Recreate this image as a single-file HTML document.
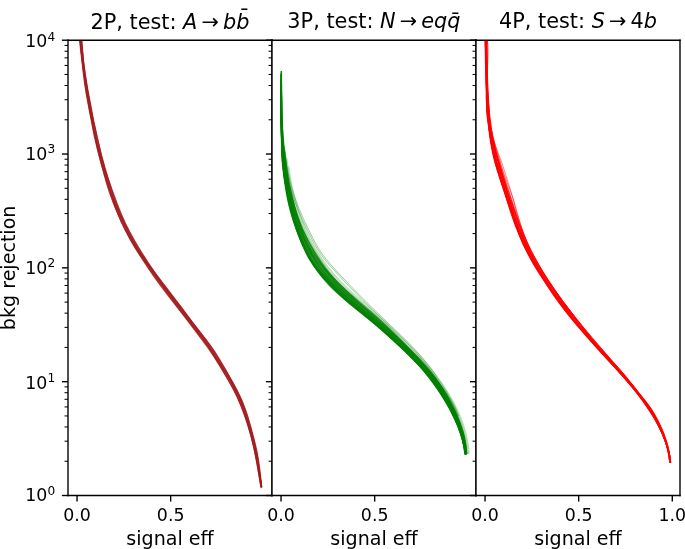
<!DOCTYPE html><html><head><meta charset="utf-8"><style>html,body{margin:0;padding:0;background:#fff}svg{display:block}</style></head><body><svg width="685" height="549" viewBox="0 0 394.56 316.224">
 
 <defs>
  <style type="text/css">*{stroke-linejoin: round; stroke-linecap: butt}</style>
 </defs>
 <g id="figure_1">
  <g id="patch_1">
   <path d="M 0 316.224 
L 394.56 316.224 
L 394.56 0 
L 0 0 
z
" style="fill: #ffffff"/>
  </g>
  <g id="axes_1">
   <g id="patch_2">
    <path d="M 39.168 285.408 
L 156.672 285.408 
L 156.672 23.1552 
L 39.168 23.1552 
z
" style="fill: #ffffff"/>
   </g>
   <g id="matplotlib.axis_1">
    <g id="xtick_1">
     <g id="line2d_1">
      <defs>
       <path id="m1504cfccaf" d="M 0 0 
L 0 3.5 
" style="stroke: #000000; stroke-width: 0.8"/>
      </defs>
      <g>
       <use href="#m1504cfccaf" x="44.377218" y="285.408" style="stroke: #000000; stroke-width: 0.8"/>
      </g>
     </g>
     <g id="text_1">
      <text style="font-size: 10px; font-family: 'DejaVu Sans', 'Bitstream Vera Sans', 'Computer Modern Sans Serif', 'Lucida Grande', 'Verdana', 'Geneva', 'Lucid', 'Arial', 'Helvetica', 'Avant Garde', sans-serif; text-anchor: middle" x="44.377218" y="300.006438" transform="rotate(-0 44.377218 300.006438)">0.0</text>
     </g>
    </g>
    <g id="xtick_2">
     <g id="line2d_2">
      <g>
       <use href="#m1504cfccaf" x="98.302872" y="285.408" style="stroke: #000000; stroke-width: 0.8"/>
      </g>
     </g>
     <g id="text_2">
      <text style="font-size: 10px; font-family: 'DejaVu Sans', 'Bitstream Vera Sans', 'Computer Modern Sans Serif', 'Lucida Grande', 'Verdana', 'Geneva', 'Lucid', 'Arial', 'Helvetica', 'Avant Garde', sans-serif; text-anchor: middle" x="98.302872" y="300.006438" transform="rotate(-0 98.302872 300.006438)">0.5</text>
     </g>
    </g>
    <g id="text_3">
     <text style="font-size: 11px; font-family: 'DejaVu Sans', 'Bitstream Vera Sans', 'Computer Modern Sans Serif', 'Lucida Grande', 'Verdana', 'Geneva', 'Lucid', 'Arial', 'Helvetica', 'Avant Garde', sans-serif; text-anchor: middle" x="97.9200" y="314.0988" transform="rotate(-0 97.9200 314.0988)">signal eff</text>
    </g>
   </g>
   <g id="matplotlib.axis_2">
    <g id="ytick_1">
     <g id="line2d_3">
      <defs>
       <path id="m5d545ce8f8" d="M 0 0 
L -3.5 0 
" style="stroke: #000000; stroke-width: 0.8"/>
      </defs>
      <g>
       <use href="#m5d545ce8f8" x="39.168" y="285.408" style="stroke: #000000; stroke-width: 0.8"/>
      </g>
     </g>
     <g id="text_4">
      
      <g transform="translate(14.568 289.668019)">
       <text>
        <tspan x="0" y="-0.976562" style="font-size: 10px; font-family: 'DejaVu Sans'">1</tspan>
        <tspan x="6.362305" y="-0.976562" style="font-size: 10px; font-family: 'DejaVu Sans'">0</tspan>
        <tspan x="12.820312" y="-4.804688" style="font-size: 7px; font-family: 'DejaVu Sans'">0</tspan>
       </text>
      </g>
     </g>
    </g>
    <g id="ytick_2">
     <g id="line2d_4">
      <g>
       <use href="#m5d545ce8f8" x="39.168" y="219.8448" style="stroke: #000000; stroke-width: 0.8"/>
      </g>
     </g>
     <g id="text_5">
      
      <g transform="translate(14.568 224.104819)">
       <text>
        <tspan x="0" y="-0.064063" style="font-size: 10px; font-family: 'DejaVu Sans'">1</tspan>
        <tspan x="6.362305" y="-0.064063" style="font-size: 10px; font-family: 'DejaVu Sans'">0</tspan>
        <tspan x="12.820312" y="-3.892188" style="font-size: 7px; font-family: 'DejaVu Sans'">1</tspan>
       </text>
      </g>
     </g>
    </g>
    <g id="ytick_3">
     <g id="line2d_5">
      <g>
       <use href="#m5d545ce8f8" x="39.168" y="154.2816" style="stroke: #000000; stroke-width: 0.8"/>
      </g>
     </g>
     <g id="text_6">
      
      <g transform="translate(14.568 158.541619)">
       <text>
        <tspan x="0" y="-0.976562" style="font-size: 10px; font-family: 'DejaVu Sans'">1</tspan>
        <tspan x="6.362305" y="-0.976562" style="font-size: 10px; font-family: 'DejaVu Sans'">0</tspan>
        <tspan x="12.820312" y="-4.804688" style="font-size: 7px; font-family: 'DejaVu Sans'">2</tspan>
       </text>
      </g>
     </g>
    </g>
    <g id="ytick_4">
     <g id="line2d_6">
      <g>
       <use href="#m5d545ce8f8" x="39.168" y="88.7184" style="stroke: #000000; stroke-width: 0.8"/>
      </g>
     </g>
     <g id="text_7">
      
      <g transform="translate(14.568 92.978419)">
       <text>
        <tspan x="0" y="-0.976562" style="font-size: 10px; font-family: 'DejaVu Sans'">1</tspan>
        <tspan x="6.362305" y="-0.976562" style="font-size: 10px; font-family: 'DejaVu Sans'">0</tspan>
        <tspan x="12.820312" y="-4.804688" style="font-size: 7px; font-family: 'DejaVu Sans'">3</tspan>
       </text>
      </g>
     </g>
    </g>
    <g id="ytick_5">
     <g id="line2d_7">
      <g>
       <use href="#m5d545ce8f8" x="39.168" y="23.1552" style="stroke: #000000; stroke-width: 0.8"/>
      </g>
     </g>
     <g id="text_8">
      
      <g transform="translate(14.568 27.415219)">
       <text>
        <tspan x="0" y="-0.064063" style="font-size: 10px; font-family: 'DejaVu Sans'">1</tspan>
        <tspan x="6.362305" y="-0.064063" style="font-size: 10px; font-family: 'DejaVu Sans'">0</tspan>
        <tspan x="12.820312" y="-3.892188" style="font-size: 7px; font-family: 'DejaVu Sans'">4</tspan>
       </text>
      </g>
     </g>
    </g>
    <g id="ytick_6">
     <g id="line2d_8">
      <defs>
       <path id="mc3d89a154a" d="M 0 0 
L -2 0 
" style="stroke: #000000; stroke-width: 0.6"/>
      </defs>
      <g>
       <use href="#mc3d89a154a" x="39.168" y="265.67151" style="stroke: #000000; stroke-width: 0.6"/>
      </g>
     </g>
    </g>
    <g id="ytick_7">
     <g id="line2d_9">
      <g>
       <use href="#mc3d89a154a" x="39.168" y="254.126404" style="stroke: #000000; stroke-width: 0.6"/>
      </g>
     </g>
    </g>
    <g id="ytick_8">
     <g id="line2d_10">
      <g>
       <use href="#mc3d89a154a" x="39.168" y="245.93502" style="stroke: #000000; stroke-width: 0.6"/>
      </g>
     </g>
    </g>
    <g id="ytick_9">
     <g id="line2d_11">
      <g>
       <use href="#mc3d89a154a" x="39.168" y="239.58129" style="stroke: #000000; stroke-width: 0.6"/>
      </g>
     </g>
    </g>
    <g id="ytick_10">
     <g id="line2d_12">
      <g>
       <use href="#mc3d89a154a" x="39.168" y="234.389914" style="stroke: #000000; stroke-width: 0.6"/>
      </g>
     </g>
    </g>
    <g id="ytick_11">
     <g id="line2d_13">
      <g>
       <use href="#mc3d89a154a" x="39.168" y="230.000668" style="stroke: #000000; stroke-width: 0.6"/>
      </g>
     </g>
    </g>
    <g id="ytick_12">
     <g id="line2d_14">
      <g>
       <use href="#mc3d89a154a" x="39.168" y="226.198531" style="stroke: #000000; stroke-width: 0.6"/>
      </g>
     </g>
    </g>
    <g id="ytick_13">
     <g id="line2d_15">
      <g>
       <use href="#mc3d89a154a" x="39.168" y="222.844808" style="stroke: #000000; stroke-width: 0.6"/>
      </g>
     </g>
    </g>
    <g id="ytick_14">
     <g id="line2d_16">
      <g>
       <use href="#mc3d89a154a" x="39.168" y="200.10831" style="stroke: #000000; stroke-width: 0.6"/>
      </g>
     </g>
    </g>
    <g id="ytick_15">
     <g id="line2d_17">
      <g>
       <use href="#mc3d89a154a" x="39.168" y="188.563204" style="stroke: #000000; stroke-width: 0.6"/>
      </g>
     </g>
    </g>
    <g id="ytick_16">
     <g id="line2d_18">
      <g>
       <use href="#mc3d89a154a" x="39.168" y="180.37182" style="stroke: #000000; stroke-width: 0.6"/>
      </g>
     </g>
    </g>
    <g id="ytick_17">
     <g id="line2d_19">
      <g>
       <use href="#mc3d89a154a" x="39.168" y="174.01809" style="stroke: #000000; stroke-width: 0.6"/>
      </g>
     </g>
    </g>
    <g id="ytick_18">
     <g id="line2d_20">
      <g>
       <use href="#mc3d89a154a" x="39.168" y="168.826714" style="stroke: #000000; stroke-width: 0.6"/>
      </g>
     </g>
    </g>
    <g id="ytick_19">
     <g id="line2d_21">
      <g>
       <use href="#mc3d89a154a" x="39.168" y="164.437468" style="stroke: #000000; stroke-width: 0.6"/>
      </g>
     </g>
    </g>
    <g id="ytick_20">
     <g id="line2d_22">
      <g>
       <use href="#mc3d89a154a" x="39.168" y="160.635331" style="stroke: #000000; stroke-width: 0.6"/>
      </g>
     </g>
    </g>
    <g id="ytick_21">
     <g id="line2d_23">
      <g>
       <use href="#mc3d89a154a" x="39.168" y="157.281608" style="stroke: #000000; stroke-width: 0.6"/>
      </g>
     </g>
    </g>
    <g id="ytick_22">
     <g id="line2d_24">
      <g>
       <use href="#mc3d89a154a" x="39.168" y="134.54511" style="stroke: #000000; stroke-width: 0.6"/>
      </g>
     </g>
    </g>
    <g id="ytick_23">
     <g id="line2d_25">
      <g>
       <use href="#mc3d89a154a" x="39.168" y="123.000004" style="stroke: #000000; stroke-width: 0.6"/>
      </g>
     </g>
    </g>
    <g id="ytick_24">
     <g id="line2d_26">
      <g>
       <use href="#mc3d89a154a" x="39.168" y="114.80862" style="stroke: #000000; stroke-width: 0.6"/>
      </g>
     </g>
    </g>
    <g id="ytick_25">
     <g id="line2d_27">
      <g>
       <use href="#mc3d89a154a" x="39.168" y="108.45489" style="stroke: #000000; stroke-width: 0.6"/>
      </g>
     </g>
    </g>
    <g id="ytick_26">
     <g id="line2d_28">
      <g>
       <use href="#mc3d89a154a" x="39.168" y="103.263514" style="stroke: #000000; stroke-width: 0.6"/>
      </g>
     </g>
    </g>
    <g id="ytick_27">
     <g id="line2d_29">
      <g>
       <use href="#mc3d89a154a" x="39.168" y="98.874268" style="stroke: #000000; stroke-width: 0.6"/>
      </g>
     </g>
    </g>
    <g id="ytick_28">
     <g id="line2d_30">
      <g>
       <use href="#mc3d89a154a" x="39.168" y="95.072131" style="stroke: #000000; stroke-width: 0.6"/>
      </g>
     </g>
    </g>
    <g id="ytick_29">
     <g id="line2d_31">
      <g>
       <use href="#mc3d89a154a" x="39.168" y="91.718408" style="stroke: #000000; stroke-width: 0.6"/>
      </g>
     </g>
    </g>
    <g id="ytick_30">
     <g id="line2d_32">
      <g>
       <use href="#mc3d89a154a" x="39.168" y="68.98191" style="stroke: #000000; stroke-width: 0.6"/>
      </g>
     </g>
    </g>
    <g id="ytick_31">
     <g id="line2d_33">
      <g>
       <use href="#mc3d89a154a" x="39.168" y="57.436804" style="stroke: #000000; stroke-width: 0.6"/>
      </g>
     </g>
    </g>
    <g id="ytick_32">
     <g id="line2d_34">
      <g>
       <use href="#mc3d89a154a" x="39.168" y="49.24542" style="stroke: #000000; stroke-width: 0.6"/>
      </g>
     </g>
    </g>
    <g id="ytick_33">
     <g id="line2d_35">
      <g>
       <use href="#mc3d89a154a" x="39.168" y="42.89169" style="stroke: #000000; stroke-width: 0.6"/>
      </g>
     </g>
    </g>
    <g id="ytick_34">
     <g id="line2d_36">
      <g>
       <use href="#mc3d89a154a" x="39.168" y="37.700314" style="stroke: #000000; stroke-width: 0.6"/>
      </g>
     </g>
    </g>
    <g id="ytick_35">
     <g id="line2d_37">
      <g>
       <use href="#mc3d89a154a" x="39.168" y="33.311068" style="stroke: #000000; stroke-width: 0.6"/>
      </g>
     </g>
    </g>
    <g id="ytick_36">
     <g id="line2d_38">
      <g>
       <use href="#mc3d89a154a" x="39.168" y="29.508931" style="stroke: #000000; stroke-width: 0.6"/>
      </g>
     </g>
    </g>
    <g id="ytick_37">
     <g id="line2d_39">
      <g>
       <use href="#mc3d89a154a" x="39.168" y="26.155208" style="stroke: #000000; stroke-width: 0.6"/>
      </g>
     </g>
    </g>
    <g id="text_9">
     <text style="font-size: 11px; font-family: 'DejaVu Sans', 'Bitstream Vera Sans', 'Computer Modern Sans Serif', 'Lucida Grande', 'Verdana', 'Geneva', 'Lucid', 'Arial', 'Helvetica', 'Avant Garde', sans-serif; text-anchor: middle" x="8.6835" y="154.2816" transform="rotate(-90 8.6835 154.2816)">bkg rejection</text>
    </g>
   </g>
   <g id="line2d_40">
    <path d="M 45.598349 20.789011 
L 46.350313 28.195458 
L 48.556919 46.963644 
L 49.618012 53.754234 
L 51.58949 64.45526 
L 54.320287 78.511889 
L 55.893088 85.203856 
L 58.798 96.288149 
L 61.397999 105.687034 
L 63.14315 111.1584 
L 64.915395 116.016708 
L 67.296556 121.873358 
L 70.316292 128.709228 
L 73.068538 134.405544 
L 75.513609 138.969414 
L 78.154075 143.421318 
L 81.888824 149.215819 
L 88.317769 158.723121 
L 92.662081 164.780485 
L 97.205137 170.680418 
L 107.403269 183.759422 
L 119.70049 200.215524 
L 123.21888 205.405065 
L 126.848025 211.195636 
L 131.479529 219.027967 
L 134.490714 224.506803 
L 136.50209 228.582862 
L 138.547975 233.269875 
L 140.378339 238.046809 
L 142.386276 243.970579 
L 144.359114 250.50979 
L 145.79562 256.024237 
L 147.009084 261.596163 
L 148.235643 268.33242 
L 150.323004 280.72629 
L 150.323004 280.72629 
" clip-path="url(#p6982bb04e9)" style="fill: none; stroke: #a31c1f; stroke-opacity: 0.85; stroke-width: 0.6624"/>
   </g>
   <g id="line2d_41">
    <path d="M 45.782986 20.773694 
L 46.712553 29.309379 
L 49.240346 49.756005 
L 50.331451 56.537606 
L 52.048829 65.532985 
L 56.419889 86.843999 
L 57.969754 92.950594 
L 59.89005 99.55307 
L 63.519779 111.028308 
L 66.107044 118.635835 
L 67.96724 123.462055 
L 69.80918 127.676846 
L 72.103882 132.315007 
L 74.87262 137.352043 
L 78.40282 143.270744 
L 82.71474 150.046294 
L 86.906807 156.20843 
L 91.616794 162.701425 
L 101.943343 176.419394 
L 107.93485 184.071244 
L 116.798071 195.275142 
L 119.781366 199.461774 
L 122.897644 204.247706 
L 126.725196 210.600985 
L 133.843768 222.922283 
L 136.235813 227.453158 
L 138.175507 231.576229 
L 139.914397 235.790276 
L 141.439667 240.087116 
L 142.943716 244.990644 
L 144.566309 251.044499 
L 146.266953 258.255492 
L 147.866301 266.07949 
L 149.334541 274.517832 
L 150.339224 280.724069 
L 150.339224 280.724069 
" clip-path="url(#p6982bb04e9)" style="fill: none; stroke: #a31c1f; stroke-opacity: 0.85; stroke-width: 0.6624"/>
   </g>
   <g id="line2d_42">
    <path d="M 45.922787 20.762097 
L 47.398624 35.566882 
L 48.29576 42.952722 
L 49.294789 49.168708 
L 54.09121 75.630043 
L 55.656181 82.317122 
L 60.165098 100.069981 
L 61.830348 105.550747 
L 63.714856 110.960926 
L 67.168275 120.064233 
L 69.977933 126.966011 
L 72.148287 131.649988 
L 74.278713 135.71468 
L 76.867148 140.180351 
L 81.101687 146.993466 
L 85.802521 154.18439 
L 89.111508 158.857887 
L 93.609123 164.786142 
L 99.810999 173.006721 
L 108.015934 184.008847 
L 117.784377 196.676706 
L 122.038759 202.761021 
L 128.071843 211.779227 
L 130.771697 216.15464 
L 132.984645 220.152778 
L 134.99365 224.255576 
L 137.046603 228.960873 
L 140.004087 236.36552 
L 142.345776 242.789233 
L 143.893172 247.683167 
L 145.224716 252.64259 
L 146.764719 259.316585 
L 149.00177 269.942878 
L 149.991156 275.576519 
L 150.692367 280.675724 
L 150.692367 280.675724 
" clip-path="url(#p6982bb04e9)" style="fill: none; stroke: #a31c1f; stroke-opacity: 0.85; stroke-width: 0.6624"/>
   </g>
   <g id="line2d_43">
    <path d="M 46.133772 20.744595 
L 46.69106 27.011515 
L 47.551274 33.821363 
L 51.361626 60.42324 
L 53.232681 70.547843 
L 54.961374 78.953893 
L 56.433252 85.072976 
L 58.829405 93.90726 
L 62.878939 108.221283 
L 64.544998 113.097193 
L 66.448142 117.885827 
L 69.227331 124.164325 
L 74.291483 135.058176 
L 76.670449 139.632265 
L 79.003128 143.576934 
L 81.527905 147.400464 
L 86.171897 153.928977 
L 98.25167 170.59794 
L 111.490591 187.827392 
L 120.184537 199.876732 
L 124.014961 205.56108 
L 128.597947 212.796079 
L 133.325323 220.618259 
L 135.797884 225.132643 
L 137.538237 228.739634 
L 139.302868 232.962709 
L 141.052218 237.803215 
L 143.522298 245.412829 
L 145.634525 252.541231 
L 146.739757 256.983681 
L 147.629497 261.47395 
L 148.40549 266.564638 
L 150.40315 280.715318 
L 150.40315 280.715318 
" clip-path="url(#p6982bb04e9)" style="fill: none; stroke: #a31c1f; stroke-opacity: 0.85; stroke-width: 0.6624"/>
   </g>
   <g id="line2d_44">
    <path d="M 46.392862 20.723103 
L 47.357207 31.541814 
L 48.091365 38.940124 
L 48.823078 44.03486 
L 49.956772 50.224106 
L 51.83402 60.337997 
L 54.534713 76.118558 
L 55.854439 81.683042 
L 58.536243 91.619763 
L 62.643691 106.493112 
L 64.422666 111.926235 
L 66.607594 117.82347 
L 68.996745 123.641097 
L 71.352668 128.851121 
L 73.654544 133.45396 
L 76.142222 137.958255 
L 79.394313 143.338462 
L 84.044081 150.537538 
L 88.549691 157.148903 
L 92.584838 162.695768 
L 98.847774 170.860813 
L 118.026953 195.79739 
L 121.215912 200.551717 
L 126.381634 208.792672 
L 133.886783 220.967367 
L 135.774087 224.506352 
L 137.465192 228.14411 
L 138.957612 231.867105 
L 140.844195 237.270692 
L 144.154521 247.609608 
L 145.898254 253.654618 
L 146.968508 258.105165 
L 147.94401 263.161141 
L 149.187339 271.071266 
L 150.714826 280.67265 
L 150.714826 280.67265 
" clip-path="url(#p6982bb04e9)" style="fill: none; stroke: #a31c1f; stroke-opacity: 0.85; stroke-width: 0.6624"/>
   </g>
   <g id="line2d_45">
    <path d="M 46.676293 20.699591 
L 47.544085 29.79777 
L 48.62564 41.753559 
L 49.331991 46.849928 
L 50.427895 53.042661 
L 56.10666 82.211138 
L 57.834702 88.849724 
L 60.673724 98.733996 
L 63.376734 107.456349 
L 65.621271 113.923024 
L 68.09243 120.304068 
L 70.77163 126.600439 
L 73.416979 132.291575 
L 76.032626 137.365306 
L 78.589216 141.822847 
L 81.637841 146.651268 
L 85.497717 152.312699 
L 90.830577 159.730189 
L 97.00582 167.951523 
L 115.353606 192.079692 
L 121.129797 199.914252 
L 124.343045 204.656431 
L 127.35787 209.528652 
L 131.052039 215.992859 
L 136.531042 226.050214 
L 138.829285 230.676574 
L 140.654241 234.89345 
L 142.049209 238.664278 
L 143.413839 243.050321 
L 144.722535 248.045081 
L 146.64616 256.418202 
L 148.272342 264.264018 
L 149.240835 269.904065 
L 150.075818 276.142164 
L 150.597531 280.688707 
L 150.597531 280.688707 
" clip-path="url(#p6982bb04e9)" style="fill: none; stroke: #a31c1f; stroke-opacity: 0.85; stroke-width: 0.6624"/>
   </g>
   <g id="line2d_46">
    <path d="M 46.49637 20.714516 
L 47.059084 26.975583 
L 47.959149 34.34973 
L 50.640299 53.587008 
L 51.819681 60.340584 
L 53.346116 67.609123 
L 58.279224 89.326615 
L 59.893515 95.395826 
L 61.875807 101.949572 
L 65.088023 111.692043 
L 67.573999 118.669197 
L 69.484079 123.429095 
L 71.607905 128.097483 
L 73.933359 132.667882 
L 77.256872 138.639357 
L 81.61266 145.991048 
L 85.27676 151.772703 
L 88.523328 156.466678 
L 92.294809 161.488661 
L 105.17047 178.258379 
L 111.099942 185.968274 
L 118.457016 195.487141 
L 121.750882 200.180391 
L 125.174902 205.480489 
L 130.55124 214.294675 
L 134.295665 220.750573 
L 136.689062 225.337195 
L 138.593212 229.526342 
L 140.056477 233.276445 
L 141.725265 238.170026 
L 143.899693 245.300392 
L 146.20696 253.580441 
L 147.523189 259.158602 
L 148.462775 264.228965 
L 149.276151 269.898331 
L 150.65487 280.680858 
L 150.65487 280.680858 
" clip-path="url(#p6982bb04e9)" style="fill: none; stroke: #a31c1f; stroke-opacity: 0.85; stroke-width: 0.6624"/>
   </g>
   <g id="line2d_47">
    <path d="M 46.922821 20.679141 
L 48.209971 36.621317 
L 48.975044 42.283114 
L 50.226803 49.604349 
L 54.023803 69.802303 
L 55.952407 78.729083 
L 58.348498 88.720182 
L 60.409553 96.437537 
L 62.23047 102.438171 
L 64.607028 109.448915 
L 67.554753 117.453065 
L 70.098774 123.781555 
L 72.428872 128.966869 
L 74.724935 133.539641 
L 77.477959 138.513545 
L 81.269776 144.860635 
L 85.546661 151.589621 
L 88.774454 156.288416 
L 92.17773 160.865874 
L 104.652595 177.212513 
L 111.080326 185.983239 
L 116.050668 192.276578 
L 120.62553 198.167192 
L 123.599577 202.391561 
L 126.376279 206.752111 
L 129.868472 212.696861 
L 135.487871 222.722468 
L 137.848604 227.336253 
L 139.513203 231.010669 
L 141.184971 235.305856 
L 142.826344 240.220324 
L 144.602546 246.289935 
L 146.654818 254.063313 
L 147.939667 259.658126 
L 148.87762 264.735762 
L 149.679689 270.413154 
L 150.739704 280.091995 
L 150.804056 280.660434 
L 150.804056 280.660434 
" clip-path="url(#p6982bb04e9)" style="fill: none; stroke: #a31c1f; stroke-opacity: 0.85; stroke-width: 0.6624"/>
   </g>
   <g id="patch_3">
    <path d="M 39.168 285.408 
L 39.168 23.1552 
" style="fill: none; stroke: #000000; stroke-width: 0.8; stroke-linejoin: miter; stroke-linecap: square"/>
   </g>
   <g id="patch_4">
    <path d="M 156.672 285.408 
L 156.672 23.1552 
" style="fill: none; stroke: #000000; stroke-width: 0.8; stroke-linejoin: miter; stroke-linecap: square"/>
   </g>
   <g id="patch_5">
    <path d="M 39.168 285.408 
L 156.672 285.408 
" style="fill: none; stroke: #000000; stroke-width: 0.8; stroke-linejoin: miter; stroke-linecap: square"/>
   </g>
   <g id="patch_6">
    <path d="M 39.168 23.1552 
L 156.672 23.1552 
" style="fill: none; stroke: #000000; stroke-width: 0.8; stroke-linejoin: miter; stroke-linecap: square"/>
   </g>
   <g id="text_10">
    
    <g transform="translate(52.08 17.1552)">
     <text>
      <tspan x="0" y="-0.515625" style="font-size: 12px; font-family: 'DejaVu Sans'">2</tspan>
      <tspan x="7.634766" y="-0.515625" style="font-size: 12px; font-family: 'DejaVu Sans'">P</tspan>
      <tspan x="14.871094" y="-0.515625" style="font-size: 12px; font-family: 'DejaVu Sans'">,</tspan>
      <tspan x="18.685547" y="-0.515625" style="font-size: 12px; font-family: 'DejaVu Sans'"> </tspan>
      <tspan x="22.5" y="-0.515625" style="font-size: 12px; font-family: 'DejaVu Sans'">t</tspan>
      <tspan x="27.205078" y="-0.515625" style="font-size: 12px; font-family: 'DejaVu Sans'">e</tspan>
      <tspan x="34.587891" y="-0.515625" style="font-size: 12px; font-family: 'DejaVu Sans'">s</tspan>
      <tspan x="40.839844" y="-0.515625" style="font-size: 12px; font-family: 'DejaVu Sans'">t</tspan>
      <tspan x="45.544922" y="-0.515625" style="font-size: 12px; font-family: 'DejaVu Sans'">:</tspan>
      <tspan x="49.587891" y="-0.515625" style="font-size: 12px; font-family: 'DejaVu Sans'"> </tspan>
      <tspan x="63.949219" y="-0.515625" style="font-size: 12px; font-family: 'DejaVu Sans'">→</tspan>
      <tspan x="91.613281" y="-3.0625" style="font-size: 12px; font-family: 'DejaVu Sans'">̄</tspan>
      <tspan x="53.402344" y="-0.515625" style="font-style: oblique; font-size: 12px; font-family: 'DejaVu Sans'">A</tspan>
      <tspan x="76.341797" y="-0.515625" style="font-style: oblique; font-size: 12px; font-family: 'DejaVu Sans'">b</tspan>
      <tspan x="83.958984" y="-0.515625" style="font-style: oblique; font-size: 12px; font-family: 'DejaVu Sans'">b</tspan>
     </text>
    </g>
   </g>
  </g>
  <g id="axes_2">
   <g id="patch_7">
    <path d="M 156.672 285.408 
L 274.176 285.408 
L 274.176 23.1552 
L 156.672 23.1552 
z
" style="fill: #ffffff"/>
   </g>
   <g id="matplotlib.axis_3">
    <g id="xtick_3">
     <g id="line2d_48">
      <g>
       <use href="#m1504cfccaf" x="161.881218" y="285.408" style="stroke: #000000; stroke-width: 0.8"/>
      </g>
     </g>
     <g id="text_11">
      <text style="font-size: 10px; font-family: 'DejaVu Sans', 'Bitstream Vera Sans', 'Computer Modern Sans Serif', 'Lucida Grande', 'Verdana', 'Geneva', 'Lucid', 'Arial', 'Helvetica', 'Avant Garde', sans-serif; text-anchor: middle" x="161.881218" y="300.006438" transform="rotate(-0 161.881218 300.006438)">0.0</text>
     </g>
    </g>
    <g id="xtick_4">
     <g id="line2d_49">
      <g>
       <use href="#m1504cfccaf" x="215.806872" y="285.408" style="stroke: #000000; stroke-width: 0.8"/>
      </g>
     </g>
     <g id="text_12">
      <text style="font-size: 10px; font-family: 'DejaVu Sans', 'Bitstream Vera Sans', 'Computer Modern Sans Serif', 'Lucida Grande', 'Verdana', 'Geneva', 'Lucid', 'Arial', 'Helvetica', 'Avant Garde', sans-serif; text-anchor: middle" x="215.806872" y="300.006438" transform="rotate(-0 215.806872 300.006438)">0.5</text>
     </g>
    </g>
    <g id="text_13">
     <text style="font-size: 11px; font-family: 'DejaVu Sans', 'Bitstream Vera Sans', 'Computer Modern Sans Serif', 'Lucida Grande', 'Verdana', 'Geneva', 'Lucid', 'Arial', 'Helvetica', 'Avant Garde', sans-serif; text-anchor: middle" x="215.4240" y="314.0988" transform="rotate(-0 215.4240 314.0988)">signal eff</text>
    </g>
   </g>
   <g id="matplotlib.axis_4">
    <g id="ytick_38">
     <g id="line2d_50">
      <g>
       <use href="#m5d545ce8f8" x="156.672" y="285.408" style="stroke: #000000; stroke-width: 0.8"/>
      </g>
     </g>
    </g>
    <g id="ytick_39">
     <g id="line2d_51">
      <g>
       <use href="#m5d545ce8f8" x="156.672" y="219.8448" style="stroke: #000000; stroke-width: 0.8"/>
      </g>
     </g>
    </g>
    <g id="ytick_40">
     <g id="line2d_52">
      <g>
       <use href="#m5d545ce8f8" x="156.672" y="154.2816" style="stroke: #000000; stroke-width: 0.8"/>
      </g>
     </g>
    </g>
    <g id="ytick_41">
     <g id="line2d_53">
      <g>
       <use href="#m5d545ce8f8" x="156.672" y="88.7184" style="stroke: #000000; stroke-width: 0.8"/>
      </g>
     </g>
    </g>
    <g id="ytick_42">
     <g id="line2d_54">
      <g>
       <use href="#m5d545ce8f8" x="156.672" y="23.1552" style="stroke: #000000; stroke-width: 0.8"/>
      </g>
     </g>
    </g>
    <g id="ytick_43">
     <g id="line2d_55">
      <g>
       <use href="#mc3d89a154a" x="156.672" y="265.67151" style="stroke: #000000; stroke-width: 0.6"/>
      </g>
     </g>
    </g>
    <g id="ytick_44">
     <g id="line2d_56">
      <g>
       <use href="#mc3d89a154a" x="156.672" y="254.126404" style="stroke: #000000; stroke-width: 0.6"/>
      </g>
     </g>
    </g>
    <g id="ytick_45">
     <g id="line2d_57">
      <g>
       <use href="#mc3d89a154a" x="156.672" y="245.93502" style="stroke: #000000; stroke-width: 0.6"/>
      </g>
     </g>
    </g>
    <g id="ytick_46">
     <g id="line2d_58">
      <g>
       <use href="#mc3d89a154a" x="156.672" y="239.58129" style="stroke: #000000; stroke-width: 0.6"/>
      </g>
     </g>
    </g>
    <g id="ytick_47">
     <g id="line2d_59">
      <g>
       <use href="#mc3d89a154a" x="156.672" y="234.389914" style="stroke: #000000; stroke-width: 0.6"/>
      </g>
     </g>
    </g>
    <g id="ytick_48">
     <g id="line2d_60">
      <g>
       <use href="#mc3d89a154a" x="156.672" y="230.000668" style="stroke: #000000; stroke-width: 0.6"/>
      </g>
     </g>
    </g>
    <g id="ytick_49">
     <g id="line2d_61">
      <g>
       <use href="#mc3d89a154a" x="156.672" y="226.198531" style="stroke: #000000; stroke-width: 0.6"/>
      </g>
     </g>
    </g>
    <g id="ytick_50">
     <g id="line2d_62">
      <g>
       <use href="#mc3d89a154a" x="156.672" y="222.844808" style="stroke: #000000; stroke-width: 0.6"/>
      </g>
     </g>
    </g>
    <g id="ytick_51">
     <g id="line2d_63">
      <g>
       <use href="#mc3d89a154a" x="156.672" y="200.10831" style="stroke: #000000; stroke-width: 0.6"/>
      </g>
     </g>
    </g>
    <g id="ytick_52">
     <g id="line2d_64">
      <g>
       <use href="#mc3d89a154a" x="156.672" y="188.563204" style="stroke: #000000; stroke-width: 0.6"/>
      </g>
     </g>
    </g>
    <g id="ytick_53">
     <g id="line2d_65">
      <g>
       <use href="#mc3d89a154a" x="156.672" y="180.37182" style="stroke: #000000; stroke-width: 0.6"/>
      </g>
     </g>
    </g>
    <g id="ytick_54">
     <g id="line2d_66">
      <g>
       <use href="#mc3d89a154a" x="156.672" y="174.01809" style="stroke: #000000; stroke-width: 0.6"/>
      </g>
     </g>
    </g>
    <g id="ytick_55">
     <g id="line2d_67">
      <g>
       <use href="#mc3d89a154a" x="156.672" y="168.826714" style="stroke: #000000; stroke-width: 0.6"/>
      </g>
     </g>
    </g>
    <g id="ytick_56">
     <g id="line2d_68">
      <g>
       <use href="#mc3d89a154a" x="156.672" y="164.437468" style="stroke: #000000; stroke-width: 0.6"/>
      </g>
     </g>
    </g>
    <g id="ytick_57">
     <g id="line2d_69">
      <g>
       <use href="#mc3d89a154a" x="156.672" y="160.635331" style="stroke: #000000; stroke-width: 0.6"/>
      </g>
     </g>
    </g>
    <g id="ytick_58">
     <g id="line2d_70">
      <g>
       <use href="#mc3d89a154a" x="156.672" y="157.281608" style="stroke: #000000; stroke-width: 0.6"/>
      </g>
     </g>
    </g>
    <g id="ytick_59">
     <g id="line2d_71">
      <g>
       <use href="#mc3d89a154a" x="156.672" y="134.54511" style="stroke: #000000; stroke-width: 0.6"/>
      </g>
     </g>
    </g>
    <g id="ytick_60">
     <g id="line2d_72">
      <g>
       <use href="#mc3d89a154a" x="156.672" y="123.000004" style="stroke: #000000; stroke-width: 0.6"/>
      </g>
     </g>
    </g>
    <g id="ytick_61">
     <g id="line2d_73">
      <g>
       <use href="#mc3d89a154a" x="156.672" y="114.80862" style="stroke: #000000; stroke-width: 0.6"/>
      </g>
     </g>
    </g>
    <g id="ytick_62">
     <g id="line2d_74">
      <g>
       <use href="#mc3d89a154a" x="156.672" y="108.45489" style="stroke: #000000; stroke-width: 0.6"/>
      </g>
     </g>
    </g>
    <g id="ytick_63">
     <g id="line2d_75">
      <g>
       <use href="#mc3d89a154a" x="156.672" y="103.263514" style="stroke: #000000; stroke-width: 0.6"/>
      </g>
     </g>
    </g>
    <g id="ytick_64">
     <g id="line2d_76">
      <g>
       <use href="#mc3d89a154a" x="156.672" y="98.874268" style="stroke: #000000; stroke-width: 0.6"/>
      </g>
     </g>
    </g>
    <g id="ytick_65">
     <g id="line2d_77">
      <g>
       <use href="#mc3d89a154a" x="156.672" y="95.072131" style="stroke: #000000; stroke-width: 0.6"/>
      </g>
     </g>
    </g>
    <g id="ytick_66">
     <g id="line2d_78">
      <g>
       <use href="#mc3d89a154a" x="156.672" y="91.718408" style="stroke: #000000; stroke-width: 0.6"/>
      </g>
     </g>
    </g>
    <g id="ytick_67">
     <g id="line2d_79">
      <g>
       <use href="#mc3d89a154a" x="156.672" y="68.98191" style="stroke: #000000; stroke-width: 0.6"/>
      </g>
     </g>
    </g>
    <g id="ytick_68">
     <g id="line2d_80">
      <g>
       <use href="#mc3d89a154a" x="156.672" y="57.436804" style="stroke: #000000; stroke-width: 0.6"/>
      </g>
     </g>
    </g>
    <g id="ytick_69">
     <g id="line2d_81">
      <g>
       <use href="#mc3d89a154a" x="156.672" y="49.24542" style="stroke: #000000; stroke-width: 0.6"/>
      </g>
     </g>
    </g>
    <g id="ytick_70">
     <g id="line2d_82">
      <g>
       <use href="#mc3d89a154a" x="156.672" y="42.89169" style="stroke: #000000; stroke-width: 0.6"/>
      </g>
     </g>
    </g>
    <g id="ytick_71">
     <g id="line2d_83">
      <g>
       <use href="#mc3d89a154a" x="156.672" y="37.700314" style="stroke: #000000; stroke-width: 0.6"/>
      </g>
     </g>
    </g>
    <g id="ytick_72">
     <g id="line2d_84">
      <g>
       <use href="#mc3d89a154a" x="156.672" y="33.311068" style="stroke: #000000; stroke-width: 0.6"/>
      </g>
     </g>
    </g>
    <g id="ytick_73">
     <g id="line2d_85">
      <g>
       <use href="#mc3d89a154a" x="156.672" y="29.508931" style="stroke: #000000; stroke-width: 0.6"/>
      </g>
     </g>
    </g>
    <g id="ytick_74">
     <g id="line2d_86">
      <g>
       <use href="#mc3d89a154a" x="156.672" y="26.155208" style="stroke: #000000; stroke-width: 0.6"/>
      </g>
     </g>
    </g>
   </g>
   <g id="line2d_87">
    <path d="M 161.848854 49.094018 
L 161.776746 65.614404 
L 162.203792 81.107487 
L 162.217951 84.733699 
L 162.307087 89.921611 
L 162.700156 95.617526 
L 163.336492 100.772078 
L 164.357349 106.924485 
L 165.687351 113.553177 
L 167.442872 121.16631 
L 168.928765 126.713089 
L 170.499378 131.701713 
L 172.133765 136.132049 
L 173.97077 140.498821 
L 176.017558 144.786302 
L 178.513973 149.455261 
L 181.011275 153.525094 
L 183.39629 157.043737 
L 186.016553 160.389406 
L 188.8182 163.577933 
L 191.419253 166.212109 
L 194.909503 169.421767 
L 199.310536 173.1554 
L 220.357394 190.574575 
L 226.537936 196.00652 
L 231.789769 200.939674 
L 237.953071 207.111199 
L 242.863527 212.294582 
L 246.555298 216.522603 
L 249.743181 220.527711 
L 252.440449 224.264779 
L 254.948379 228.12707 
L 257.281007 232.091491 
L 259.670281 236.600423 
L 262.077641 241.661817 
L 263.845493 245.890653 
L 265.193294 249.735109 
L 266.322003 253.650709 
L 267.082869 257.135435 
L 267.609393 260.663703 
L 267.715423 261.680905 
L 267.715423 261.680905 
" clip-path="url(#pa73e26c07d)" style="fill: none; stroke: #008000; stroke-opacity: 0.6; stroke-width: 0.6336"/>
   </g>
   <g id="line2d_88">
    <path d="M 162.162327 55.28702 
L 161.999414 61.997449 
L 161.753836 71.815299 
L 161.846037 76.984188 
L 162.432011 88.35073 
L 163.733688 103.339763 
L 164.552956 109.536291 
L 165.449181 114.142132 
L 166.596113 118.694696 
L 168.237707 124.194166 
L 171.334873 133.625179 
L 173.472246 139.568265 
L 175.107372 143.473117 
L 176.747216 146.804462 
L 178.318328 149.576739 
L 180.377582 152.67228 
L 182.92464 156.068782 
L 185.309796 158.909077 
L 189.567353 163.603852 
L 193.958142 168.135891 
L 198.101177 172.151665 
L 201.626311 175.271244 
L 205.663692 178.527349 
L 217.394296 187.723248 
L 221.237289 191.135 
L 226.448062 196.101677 
L 234.277523 203.54103 
L 240.960549 209.894451 
L 243.75178 212.877258 
L 246.363978 216.022846 
L 248.800078 219.314017 
L 251.658101 223.560044 
L 255.711953 230.054246 
L 259.322746 236.205338 
L 261.701161 240.714439 
L 263.205995 243.953468 
L 264.513057 247.277497 
L 265.597936 250.679366 
L 266.502425 254.132622 
L 267.190941 257.634254 
L 267.735119 261.679139 
L 267.735119 261.679139 
" clip-path="url(#pa73e26c07d)" style="fill: none; stroke: #008000; stroke-opacity: 0.6; stroke-width: 0.6336"/>
   </g>
   <g id="line2d_89">
    <path d="M 161.764117 52.190843 
L 162.020711 60.964907 
L 162.189141 69.221543 
L 162.099783 87.858513 
L 162.35886 90.958133 
L 162.995371 96.104844 
L 166.19968 117.180583 
L 167.10424 121.262415 
L 168.232516 125.290234 
L 169.741286 129.749475 
L 171.830138 135.121095 
L 174.522801 141.402245 
L 176.568011 145.689559 
L 178.561067 149.42602 
L 180.800836 153.025488 
L 183.241516 156.493737 
L 185.228989 158.975109 
L 188.380193 162.544916 
L 191.685728 165.949289 
L 195.868517 169.933163 
L 200.182742 173.746268 
L 205.007981 177.69861 
L 215.002725 185.776029 
L 220.409038 190.517811 
L 232.167632 201.289071 
L 238.130179 206.940095 
L 241.678082 210.622168 
L 244.684927 214.094033 
L 247.521869 217.713826 
L 250.814106 222.278663 
L 253.930804 226.956853 
L 256.863992 231.74222 
L 259.330883 236.201181 
L 261.594376 240.761542 
L 263.457756 244.948234 
L 264.924018 248.752206 
L 266.192789 252.633249 
L 267.104586 256.094877 
L 267.765159 259.617734 
L 268.023488 261.653282 
L 268.023488 261.653282 
" clip-path="url(#pa73e26c07d)" style="fill: none; stroke: #008000; stroke-opacity: 0.6; stroke-width: 0.6336"/>
   </g>
   <g id="line2d_90">
    <path d="M 161.707979 42.385598 
L 161.986919 55.287422 
L 161.744208 61.99975 
L 161.613756 67.68364 
L 161.745377 72.849593 
L 162.184295 79.038481 
L 162.461073 83.680853 
L 162.8884 95.595308 
L 163.314434 99.72594 
L 163.956693 103.829895 
L 164.939635 108.929645 
L 168.142554 123.677803 
L 169.365176 128.219598 
L 170.656783 132.202144 
L 172.336038 136.61714 
L 174.415224 141.455086 
L 176.478334 145.739506 
L 178.490257 149.469987 
L 180.753751 153.057939 
L 182.908663 156.080797 
L 184.899982 158.560084 
L 188.05961 162.122613 
L 191.716524 165.918916 
L 196.252402 170.290016 
L 199.78745 173.404158 
L 203.446998 176.335863 
L 214.005655 184.574865 
L 218.213413 188.348793 
L 228.083928 197.367265 
L 234.21242 202.875474 
L 237.494329 206.128784 
L 240.602756 209.529586 
L 243.873243 213.442001 
L 248.910466 219.868627 
L 252.861705 225.214187 
L 255.415772 229.040185 
L 257.516321 232.54511 
L 259.673615 236.598743 
L 261.851663 241.204659 
L 263.633598 245.425946 
L 265.035787 249.250744 
L 266.399785 253.632963 
L 267.257388 257.10629 
L 267.894814 260.634167 
L 268.031675 261.652548 
L 268.031675 261.652548 
" clip-path="url(#pa73e26c07d)" style="fill: none; stroke: #008000; stroke-opacity: 0.6; stroke-width: 0.6336"/>
   </g>
   <g id="line2d_91">
    <path d="M 162.156002 43.416334 
L 162.036355 49.610026 
L 161.675753 62.516805 
L 161.800035 69.230065 
L 162.138654 79.040705 
L 162.869142 92.9901 
L 163.549746 99.169667 
L 164.958152 109.98575 
L 165.854062 115.118093 
L 166.911862 119.690261 
L 168.064556 123.701505 
L 169.721216 128.64937 
L 172.61676 136.49731 
L 174.773953 141.865557 
L 176.546478 145.701551 
L 178.286541 148.973182 
L 179.964756 151.671792 
L 182.088455 154.710352 
L 184.366814 157.631224 
L 187.838974 161.612342 
L 191.453652 165.440255 
L 195.581174 169.472689 
L 199.088739 172.614571 
L 203.119417 175.918552 
L 213.98317 184.600786 
L 219.377134 189.360555 
L 231.146179 200.124171 
L 235.92364 204.7965 
L 240.528004 209.598337 
L 244.951636 214.535593 
L 248.542674 218.867144 
L 251.330347 222.541837 
L 253.637352 225.928272 
L 256.024761 229.866337 
L 258.455066 234.358474 
L 261.38897 240.295876 
L 263.723213 245.3931 
L 265.225934 249.193085 
L 266.493062 253.086673 
L 267.241237 256.069637 
L 267.780708 259.099059 
L 268.077256 261.648461 
L 268.077256 261.648461 
" clip-path="url(#pa73e26c07d)" style="fill: none; stroke: #008000; stroke-opacity: 0.6; stroke-width: 0.6336"/>
   </g>
   <g id="line2d_92">
    <path d="M 161.844754 54.771569 
L 161.825186 62.515349 
L 162.078038 74.389585 
L 162.625725 92.494528 
L 163.076253 97.140037 
L 163.871582 102.791905 
L 165.142834 109.948317 
L 166.55328 116.554856 
L 168.165147 123.126603 
L 169.738762 128.643304 
L 171.385584 133.605242 
L 173.08579 138.009886 
L 174.78989 141.857618 
L 176.693219 145.619822 
L 178.780799 149.289586 
L 181.377408 153.269512 
L 184.168536 157.115303 
L 187.188486 160.779801 
L 190.376888 164.287668 
L 193.729032 167.618154 
L 197.592085 171.151065 
L 202.373256 175.191947 
L 217.856214 187.977275 
L 227.554903 196.429431 
L 232.851533 201.323896 
L 236.850058 205.323183 
L 240.31819 209.09672 
L 243.601479 213.004467 
L 247.350956 217.844262 
L 253.099919 225.669365 
L 256.563625 230.735489 
L 258.972913 234.660996 
L 260.914404 238.265973 
L 262.653909 241.972368 
L 263.989025 245.295674 
L 265.292053 249.173035 
L 266.515439 253.606575 
L 267.374215 257.605287 
L 267.926033 261.145825 
L 267.985974 261.656646 
L 267.985974 261.656646 
" clip-path="url(#pa73e26c07d)" style="fill: none; stroke: #008000; stroke-opacity: 0.6; stroke-width: 0.6336"/>
   </g>
   <g id="line2d_93">
    <path d="M 161.941526 40.836541 
L 161.859879 51.158487 
L 161.728829 64.065601 
L 161.985143 74.392807 
L 162.507301 89.383532 
L 163.107471 95.04794 
L 165.404054 111.485886 
L 166.15895 115.580443 
L 167.136402 119.629177 
L 168.333622 123.61974 
L 170.531838 130.021752 
L 173.913069 139.363606 
L 175.568976 143.233275 
L 177.242222 146.521073 
L 179.127036 149.695566 
L 181.504759 153.180614 
L 184.966262 157.829376 
L 188.617498 162.330499 
L 191.433729 165.459729 
L 194.051179 168.039354 
L 196.804619 170.462557 
L 200.483008 173.397597 
L 207.399456 178.855266 
L 211.65654 182.5793 
L 220.113886 190.078451 
L 227.874218 196.840876 
L 232.728091 201.450706 
L 241.448705 210.141327 
L 244.55261 213.540108 
L 247.150648 216.707637 
L 249.893284 220.418827 
L 253.051168 225.088113 
L 256.860739 231.154019 
L 259.405006 235.589304 
L 261.499518 239.686165 
L 263.196983 243.408268 
L 264.698803 247.215219 
L 265.987605 251.102329 
L 266.939277 254.561624 
L 267.567697 257.574707 
L 268.005235 260.62274 
L 268.105074 261.645967 
L 268.105074 261.645967 
" clip-path="url(#pa73e26c07d)" style="fill: none; stroke: #008000; stroke-opacity: 0.6; stroke-width: 0.6336"/>
   </g>
   <g id="line2d_94">
    <path d="M 161.959285 53.222929 
L 161.969756 64.062685 
L 162.300638 75.414937 
L 162.512174 85.231486 
L 162.647728 90.410486 
L 163.013458 95.580548 
L 163.629441 100.729377 
L 164.692344 107.390987 
L 166.058698 114.534978 
L 167.543194 121.137838 
L 168.769065 125.667568 
L 170.211788 130.136592 
L 171.886274 134.53259 
L 173.771452 138.85162 
L 176.080654 143.558633 
L 178.598588 148.165824 
L 180.516508 151.305909 
L 183.169616 155.226369 
L 185.407366 158.15024 
L 188.146139 161.340742 
L 191.037286 164.382733 
L 195.187698 168.364856 
L 200.996211 173.59941 
L 208.456915 179.999556 
L 223.33681 192.650778 
L 228.629119 197.541341 
L 238.637113 207.163195 
L 242.580275 211.187685 
L 245.634157 214.640084 
L 248.188106 217.850909 
L 250.896585 221.593034 
L 254.006693 226.29904 
L 257.467905 231.985031 
L 259.951757 236.458538 
L 261.995958 240.584403 
L 263.614354 244.343473 
L 264.831484 247.710074 
L 265.991152 251.630682 
L 266.932671 255.607184 
L 267.629209 259.634302 
L 267.88745 261.66548 
L 267.88745 261.66548 
" clip-path="url(#pa73e26c07d)" style="fill: none; stroke: #008000; stroke-opacity: 0.6; stroke-width: 0.6336"/>
   </g>
   <g id="line2d_95">
    <path d="M 161.916024 52.706843 
L 161.983086 66.644016 
L 162.482494 86.789205 
L 162.761852 90.91964 
L 163.452357 97.614646 
L 164.667542 106.867801 
L 165.55672 111.984521 
L 166.479506 116.03763 
L 167.884217 121.041055 
L 171.030135 130.948432 
L 173.331223 137.90064 
L 174.676947 141.326531 
L 176.014313 144.188946 
L 177.534067 146.961382 
L 179.222787 149.635317 
L 181.685084 153.054736 
L 185.255683 157.598316 
L 189.666289 162.795517 
L 192.522641 165.858641 
L 195.521221 168.772041 
L 199.047936 171.871202 
L 227.035743 195.479453 
L 230.359534 198.71329 
L 235.69821 204.296158 
L 246.601736 215.835447 
L 249.118948 219.077727 
L 251.454258 222.45526 
L 254.732721 227.658374 
L 259.739853 235.992268 
L 261.67882 239.604498 
L 263.204309 242.853703 
L 264.506483 246.198239 
L 265.579754 249.621069 
L 266.694587 254.090431 
L 267.456345 258.110082 
L 267.94551 261.660274 
L 267.94551 261.660274 
" clip-path="url(#pa73e26c07d)" style="fill: none; stroke: #008000; stroke-opacity: 0.6; stroke-width: 0.6336"/>
   </g>
   <g id="line2d_96">
    <path d="M 162.140259 45.997096 
L 161.805264 55.287838 
L 161.633653 62.517215 
L 161.725521 68.198235 
L 162.121471 75.938568 
L 163.882417 100.692503 
L 164.637931 106.345931 
L 165.458208 110.943612 
L 166.59637 116.008947 
L 168.214719 122.027144 
L 170.350071 128.98208 
L 172.373654 134.898506 
L 174.274028 139.773478 
L 176.006247 143.597838 
L 177.708647 146.860059 
L 179.59897 150.020315 
L 181.986545 153.485567 
L 184.56525 156.80598 
L 187.67716 160.357152 
L 191.289848 164.140395 
L 196.154292 168.859324 
L 201.15881 173.409488 
L 206.680779 178.106017 
L 219.67828 189.026937 
L 225.421253 194.188852 
L 232.147564 200.570501 
L 239.447019 207.807685 
L 243.305713 211.913212 
L 246.64063 215.80479 
L 249.794467 219.85592 
L 252.762358 224.046942 
L 255.528154 228.369698 
L 258.093808 232.807911 
L 260.450684 237.353338 
L 262.602006 241.994129 
L 264.330277 246.260086 
L 265.654974 250.132358 
L 266.769637 254.073953 
L 267.522539 257.581844 
L 268.043895 261.134714 
L 268.096781 261.64671 
L 268.096781 261.64671 
" clip-path="url(#pa73e26c07d)" style="fill: none; stroke: #008000; stroke-opacity: 0.6; stroke-width: 0.6336"/>
   </g>
   <g id="line2d_97">
    <path d="M 161.808416 43.417295 
L 161.626576 50.126368 
L 161.714657 55.804276 
L 162.138687 71.804555 
L 162.276266 79.551207 
L 162.714147 87.289658 
L 163.176388 91.918389 
L 165.102819 108.897672 
L 165.893581 113.506327 
L 166.825595 117.558528 
L 168.101963 122.060042 
L 170.045898 127.987172 
L 172.508494 134.843284 
L 174.479551 139.676705 
L 176.28208 143.452504 
L 178.051751 146.660928 
L 179.992432 149.76944 
L 182.688774 153.629502 
L 185.850968 157.791917 
L 189.841655 162.633731 
L 192.644754 165.737136 
L 195.586298 168.70292 
L 198.67154 171.51028 
L 202.284784 174.490628 
L 213.959574 183.842746 
L 222.87411 191.634398 
L 230.166508 198.170132 
L 234.237375 202.115996 
L 238.142028 206.214307 
L 242.224922 210.81906 
L 246.466735 215.941854 
L 250.550127 221.209907 
L 253.534666 225.382538 
L 256.328923 229.683622 
L 258.917059 234.110186 
L 261.29453 238.652808 
L 263.456391 243.305293 
L 264.969587 247.12443 
L 266.090939 250.541987 
L 267.016989 254.019644 
L 267.702026 257.553476 
L 268.140958 261.125564 
L 268.182086 261.639061 
L 268.182086 261.639061 
" clip-path="url(#pa73e26c07d)" style="fill: none; stroke: #008000; stroke-opacity: 0.6; stroke-width: 0.6336"/>
   </g>
   <g id="line2d_98">
    <path d="M 161.772795 42.901378 
L 161.854566 58.384933 
L 162.19049 73.352511 
L 162.665809 86.775003 
L 162.976412 91.418669 
L 163.558889 97.079201 
L 164.367841 102.713672 
L 165.567524 109.334085 
L 166.908092 115.399354 
L 168.583068 121.919673 
L 170.481973 128.386362 
L 172.287093 133.809655 
L 174.145004 138.680608 
L 175.825248 142.510583 
L 177.711811 146.252234 
L 179.540123 149.43564 
L 181.846093 152.942343 
L 184.344082 156.31353 
L 187.0397 159.524134 
L 190.238258 162.978594 
L 193.957317 166.635832 
L 198.561259 170.852203 
L 204.459242 175.928296 
L 220.544707 189.603686 
L 229.846226 197.759246 
L 235.131 202.67699 
L 239.128424 206.691448 
L 242.587181 210.497497 
L 245.524649 214.068009 
L 248.616882 218.170637 
L 252.447848 223.639945 
L 255.805338 228.801436 
L 258.694708 233.64745 
L 260.871581 237.718224 
L 262.843439 241.892906 
L 264.382812 245.697863 
L 265.535259 249.099287 
L 266.624138 253.055649 
L 267.358983 256.569399 
L 267.870573 260.121324 
L 268.020296 261.653568 
L 268.020296 261.653568 
" clip-path="url(#pa73e26c07d)" style="fill: none; stroke: #008000; stroke-opacity: 0.6; stroke-width: 0.6336"/>
   </g>
   <g id="line2d_99">
    <path d="M 161.975512 42.900741 
L 162.129491 60.964074 
L 162.323287 76.964052 
L 162.69822 86.772492 
L 163.085483 91.927509 
L 163.712757 97.58111 
L 164.617096 103.721753 
L 165.702858 109.834806 
L 166.99307 115.911584 
L 168.494068 121.945639 
L 170.076663 127.428282 
L 171.88029 132.851794 
L 173.556179 137.229814 
L 175.445828 141.530873 
L 177.331923 145.264086 
L 179.416386 148.894944 
L 181.716526 152.394382 
L 184.197148 155.76634 
L 186.521498 158.593794 
L 189.676076 162.076998 
L 192.986943 165.396656 
L 197.183447 169.278791 
L 202.287314 173.684546 
L 214.873961 184.359599 
L 222.890588 191.616512 
L 236.861532 204.588573 
L 241.242965 208.940769 
L 244.377185 212.347938 
L 247.344495 215.905694 
L 250.450512 220.014617 
L 253.363822 224.261621 
L 256.072065 228.637969 
L 258.326511 232.678326 
L 260.395534 236.809191 
L 262.475669 241.49201 
L 264.139075 245.785315 
L 265.575421 250.155182 
L 266.777872 254.595668 
L 267.511802 258.101816 
L 268.044506 261.651398 
L 268.044506 261.651398 
" clip-path="url(#pa73e26c07d)" style="fill: none; stroke: #008000; stroke-opacity: 0.6; stroke-width: 0.6336"/>
   </g>
   <g id="line2d_100">
    <path d="M 161.898911 45.481333 
L 161.773469 55.804122 
L 161.924371 66.1286 
L 162.262321 76.449807 
L 162.896192 86.239321 
L 163.601182 94.990956 
L 164.297914 101.15443 
L 165.112568 106.260733 
L 166.243552 111.835808 
L 168.778027 122.942851 
L 170.119195 127.962145 
L 171.426041 131.911538 
L 172.781425 135.294275 
L 174.542251 139.071497 
L 176.955107 143.686298 
L 180.036253 149.123463 
L 182.544113 153.09141 
L 184.669798 156.062589 
L 186.995447 158.878592 
L 189.485917 161.545838 
L 192.849817 164.801167 
L 203.153327 174.263439 
L 208.241741 178.645764 
L 218.47443 187.284912 
L 223.385087 191.840186 
L 240.096887 207.900113 
L 243.587372 211.67029 
L 247.251668 215.978256 
L 250.423701 220.034065 
L 253.112107 223.810265 
L 255.604702 227.716977 
L 258.166878 232.178675 
L 260.79211 237.185888 
L 263.001361 241.826695 
L 264.560954 245.633945 
L 265.698132 249.049898 
L 266.598733 252.533715 
L 267.271497 256.064047 
L 267.801462 260.129114 
L 267.947757 261.660073 
L 267.947757 261.660073 
" clip-path="url(#pa73e26c07d)" style="fill: none; stroke: #008000; stroke-opacity: 0.6; stroke-width: 0.6336"/>
   </g>
   <g id="line2d_101">
    <path d="M 162.011646 46.513373 
L 161.986465 55.287423 
L 162.38419 81.097431 
L 162.871095 88.832476 
L 163.728411 97.057833 
L 164.67128 104.237183 
L 165.544228 109.338728 
L 166.542387 113.889845 
L 168.003748 119.393226 
L 170.233301 126.829174 
L 172.355287 133.22399 
L 173.857897 137.097387 
L 175.358336 140.412447 
L 177.048395 143.636456 
L 179.181646 147.206368 
L 181.772413 151.09563 
L 185.408433 156.14854 
L 188.611483 160.235884 
L 191.329926 163.381885 
L 194.221612 166.366045 
L 197.271896 169.182725 
L 201.243313 172.514721 
L 210.818002 180.384311 
L 216.95435 185.892996 
L 232.141422 199.835936 
L 238.400339 205.963303 
L 242.297918 210.066754 
L 245.31435 213.575811 
L 248.154617 217.230933 
L 251.737576 222.257304 
L 256.318835 229.089841 
L 259.31568 233.895957 
L 261.308462 237.506972 
L 262.855711 240.76901 
L 264.185104 244.125525 
L 265.293834 247.558725 
L 266.33615 251.540284 
L 267.306356 256.057608 
L 268.079225 260.615083 
L 268.218902 261.63576 
L 268.218902 261.63576 
" clip-path="url(#pa73e26c07d)" style="fill: none; stroke: #008000; stroke-opacity: 0.6; stroke-width: 0.6336"/>
   </g>
   <g id="line2d_102">
    <path d="M 162.068214 40.835913 
L 162.080912 49.093887 
L 161.927434 67.677791 
L 162.2677 74.383006 
L 163.820489 97.046227 
L 164.508938 102.16816 
L 165.507433 107.765079 
L 167.02026 114.840474 
L 168.851775 122.380414 
L 170.283417 127.35857 
L 171.79686 131.771453 
L 173.351599 135.619387 
L 175.096806 139.386064 
L 177.261428 143.522636 
L 179.879045 147.997517 
L 182.430224 151.902493 
L 185.168439 155.678421 
L 187.776737 158.900823 
L 190.876903 162.383401 
L 194.846891 166.467628 
L 199.696723 171.136757 
L 204.320021 175.286782 
L 209.077462 179.252883 
L 222.658864 190.345052 
L 226.428944 193.867604 
L 231.898578 199.345068 
L 243.410039 211.143526 
L 246.418917 214.667827 
L 249.247964 218.340809 
L 252.506506 222.976519 
L 255.864073 228.161808 
L 258.758261 233.027002 
L 260.937811 237.11443 
L 262.68586 240.842707 
L 264.227619 244.660146 
L 265.551745 248.556786 
L 266.668357 252.516643 
L 267.575601 256.531305 
L 268.171601 260.087396 
L 268.362102 261.62292 
L 268.362102 261.62292 
" clip-path="url(#pa73e26c07d)" style="fill: none; stroke: #008000; stroke-opacity: 0.6; stroke-width: 0.6336"/>
   </g>
   <g id="line2d_103">
    <path d="M 161.792918 57.868976 
L 161.958396 65.09541 
L 162.7805 85.212382 
L 163.189427 91.397815 
L 163.794269 97.049532 
L 164.641408 102.670545 
L 165.794962 108.762059 
L 167.375457 115.817734 
L 169.061791 122.318295 
L 170.555006 127.266998 
L 172.089266 131.660989 
L 173.839156 135.975514 
L 175.586196 139.727354 
L 177.757189 143.843841 
L 180.116904 147.85179 
L 182.936186 152.181395 
L 185.945331 156.385833 
L 188.834389 160.040944 
L 191.906973 163.548255 
L 195.164648 166.883993 
L 198.588011 170.046244 
L 202.547154 173.377885 
L 214.933675 183.50503 
L 219.88524 188.027946 
L 234.835328 202.242746 
L 240.370262 207.64285 
L 243.544872 211.026119 
L 246.551013 214.561917 
L 249.699906 218.647224 
L 252.970029 223.283676 
L 256.042343 228.051482 
L 258.648607 232.49896 
L 260.815953 236.600124 
L 262.786744 240.798934 
L 264.34881 244.614796 
L 265.705608 248.508886 
L 266.837298 252.47522 
L 267.624552 255.998835 
L 268.200181 259.564717 
L 268.427693 261.617039 
L 268.427693 261.617039 
" clip-path="url(#pa73e26c07d)" style="fill: none; stroke: #008000; stroke-opacity: 0.6; stroke-width: 0.6336"/>
   </g>
   <g id="line2d_104">
    <path d="M 162.02463 52.706729 
L 162.08075 64.061342 
L 162.408168 81.61349 
L 162.757008 87.80474 
L 163.276166 92.947268 
L 164.008085 98.063934 
L 165.106404 104.164581 
L 166.800447 112.242801 
L 168.490281 119.260871 
L 170.035652 124.720085 
L 171.659709 129.61705 
L 173.506612 134.434519 
L 175.577134 139.159898 
L 177.86455 143.785677 
L 180.114429 147.853306 
L 182.286461 151.373404 
L 184.637004 154.781032 
L 187.17918 158.050117 
L 189.906742 161.165602 
L 192.794491 164.129631 
L 196.565509 167.662867 
L 202.013347 172.411352 
L 215.322027 183.844607 
L 225.305596 192.802622 
L 230.920066 198.12992 
L 236.752345 203.970646 
L 242.062087 209.586702 
L 245.80241 213.841353 
L 249.37494 218.246051 
L 252.453436 222.386679 
L 255.048265 226.238906 
L 257.45496 230.211023 
L 259.674447 234.288581 
L 261.935198 238.921375 
L 263.982316 243.651156 
L 265.606562 247.999297 
L 266.826869 251.945807 
L 267.679828 255.462625 
L 268.296554 259.031498 
L 268.580151 261.603368 
L 268.580151 261.603368 
" clip-path="url(#pa73e26c07d)" style="fill: none; stroke: #008000; stroke-opacity: 0.6; stroke-width: 0.6336"/>
   </g>
   <g id="line2d_105">
    <path d="M 161.992847 49.093936 
L 162.035205 58.384071 
L 162.037485 68.708462 
L 162.297836 73.8655 
L 164.11776 98.049508 
L 164.723529 102.134978 
L 165.716058 107.200586 
L 168.83308 121.308677 
L 169.93322 125.294627 
L 171.092993 128.72204 
L 172.642227 132.556232 
L 174.81637 137.239579 
L 178.302938 144.133839 
L 180.814872 148.633535 
L 182.750698 151.681618 
L 184.866989 154.608077 
L 187.485379 157.796996 
L 190.958764 161.603127 
L 196.713843 167.505317 
L 200.809485 171.436433 
L 204.69732 174.833395 
L 219.692285 187.470858 
L 229.954729 196.899518 
L 235.898364 202.634837 
L 240.93822 207.817579 
L 244.395793 211.655326 
L 247.345425 215.249275 
L 250.11919 218.979182 
L 253.016227 223.252156 
L 256.580485 228.931069 
L 259.968435 234.716702 
L 261.884579 238.375739 
L 263.380063 241.667921 
L 264.671113 245.045671 
L 265.760381 248.491835 
L 266.798136 252.484822 
L 267.754588 257.023258 
L 268.402658 261.100893 
L 268.466335 261.613574 
L 268.466335 261.613574 
" clip-path="url(#pa73e26c07d)" style="fill: none; stroke: #008000; stroke-opacity: 0.6; stroke-width: 0.6336"/>
   </g>
   <g id="line2d_106">
    <path d="M 162.195563 57.351196 
L 162.037371 66.126831 
L 162.159746 72.320431 
L 162.552163 79.537291 
L 163.250507 88.28196 
L 164.067006 96.49517 
L 164.895369 102.630509 
L 165.887925 108.218128 
L 167.100227 113.761109 
L 168.646426 119.752763 
L 170.264953 125.188355 
L 171.928071 130.068533 
L 173.615071 134.390101 
L 175.516636 138.619121 
L 177.639299 142.737401 
L 179.970085 146.736163 
L 182.486814 150.615726 
L 185.180097 154.37261 
L 188.042083 158.00347 
L 191.07514 161.495763 
L 194.627917 165.215825 
L 198.714132 169.137061 
L 203.71484 173.595077 
L 227.459963 194.27824 
L 231.957302 198.540956 
L 236.665989 203.327581 
L 241.210772 208.269211 
L 245.599278 213.341221 
L 250.156839 218.951478 
L 253.569038 223.501059 
L 256.167562 227.365283 
L 258.289187 230.921422 
L 260.226987 234.581158 
L 262.203137 238.797441 
L 263.982084 243.096613 
L 265.567491 247.469144 
L 266.77824 251.424445 
L 267.634845 254.944007 
L 268.260498 258.513856 
L 268.584738 261.602957 
L 268.584738 261.602957 
" clip-path="url(#pa73e26c07d)" style="fill: none; stroke: #008000; stroke-opacity: 0.6; stroke-width: 0.6336"/>
   </g>
   <g id="line2d_107">
    <path d="M 162.179063 42.383926 
L 162.088122 48.577766 
L 161.86526 58.901106 
L 162.026553 64.061998 
L 162.811677 81.590256 
L 163.098555 87.259047 
L 163.586999 92.395749 
L 164.383862 98.014506 
L 165.955748 107.156006 
L 167.282134 113.719129 
L 168.53299 118.71549 
L 170.004115 123.650179 
L 171.982287 129.501303 
L 173.984058 134.794955 
L 175.834603 139.038666 
L 177.684728 142.713465 
L 179.726639 146.283021 
L 182.211181 150.182119 
L 184.865534 153.966411 
L 187.69647 157.622496 
L 190.394867 160.724556 
L 193.271973 163.66291 
L 196.670171 166.802266 
L 227.849456 194.617913 
L 244.366561 210.998264 
L 246.694252 213.782688 
L 249.177459 217.101588 
L 252.383564 221.805947 
L 256.277107 227.906194 
L 259.151989 232.810281 
L 261.301373 236.936123 
L 263.02276 240.696528 
L 264.74222 245.019609 
L 266.073524 248.936066 
L 267.052574 252.422436 
L 267.816762 255.963332 
L 268.277052 259.034052 
L 268.513147 261.609376 
L 268.513147 261.609376 
" clip-path="url(#pa73e26c07d)" style="fill: none; stroke: #008000; stroke-opacity: 0.6; stroke-width: 0.6336"/>
   </g>
   <g id="line2d_108">
    <path d="M 161.936527 41.868712 
L 162.072696 54.771116 
L 162.448468 77.475365 
L 162.846539 83.138678 
L 163.683781 90.831579 
L 164.893203 100.024845 
L 165.958988 106.631803 
L 167.068933 112.183722 
L 168.28028 117.185131 
L 169.841755 122.623926 
L 171.611263 127.995945 
L 173.569027 133.298816 
L 175.553882 138.035624 
L 177.559306 142.199134 
L 179.546453 145.793433 
L 181.735405 149.266525 
L 184.115815 152.607998 
L 186.992775 156.211504 
L 190.368817 160.058422 
L 194.598064 164.516611 
L 199.338769 169.213398 
L 203.495899 173.054859 
L 208.58322 177.423623 
L 222.408027 189.088801 
L 227.342059 193.649858 
L 233.2397 199.443631 
L 239.746598 206.097888 
L 243.57923 210.309443 
L 246.556526 213.89408 
L 249.684988 218.014673 
L 252.939163 222.678942 
L 256.290623 227.89783 
L 259.181093 232.794261 
L 261.630423 237.351289 
L 263.415308 241.091142 
L 264.994694 244.92707 
L 266.174586 248.362887 
L 267.135127 251.867623 
L 267.859943 255.427777 
L 268.357597 259.023503 
L 268.575847 261.603754 
L 268.575847 261.603754 
" clip-path="url(#pa73e26c07d)" style="fill: none; stroke: #008000; stroke-opacity: 0.6; stroke-width: 0.6336"/>
   </g>
   <g id="line2d_109">
    <path d="M 162.180036 49.09383 
L 161.956878 61.997832 
L 162.186373 67.672963 
L 163.423598 87.7502 
L 164.087832 93.897771 
L 165.351404 102.558617 
L 166.644635 110.169102 
L 167.723648 115.202211 
L 168.800462 119.176489 
L 170.225958 123.58186 
L 172.851812 130.824593 
L 175.267171 137.038921 
L 176.954464 140.77937 
L 178.640296 143.948521 
L 180.544607 146.98949 
L 182.926281 150.320511 
L 186.401311 154.72858 
L 192.862448 162.631462 
L 195.623873 165.667941 
L 198.196525 168.17847 
L 201.307374 170.865463 
L 206.967512 175.327678 
L 210.541847 178.300208 
L 213.976539 181.450808 
L 223.398988 190.302237 
L 231.839464 197.918785 
L 236.218488 202.311913 
L 242.9585 209.474829 
L 246.746482 213.740446 
L 249.672183 217.377334 
L 252.095437 220.742425 
L 254.636345 224.6557 
L 258.091309 230.437601 
L 261.374954 236.322143 
L 263.194674 240.055647 
L 264.558018 243.426968 
L 265.530201 246.38899 
L 266.444207 249.905925 
L 267.24554 253.969464 
L 268.097024 259.577289 
L 268.345388 261.624419 
L 268.345388 261.624419 
" clip-path="url(#pa73e26c07d)" style="fill: none; stroke: #008000; stroke-opacity: 0.6; stroke-width: 0.6336"/>
   </g>
   <g id="line2d_110">
    <path d="M 162.194926 40.835285 
L 161.980096 53.739033 
L 162.142085 64.0606 
L 162.504622 76.956401 
L 162.862251 82.620791 
L 163.639354 89.800603 
L 164.749986 98.485515 
L 165.785172 105.094578 
L 166.879639 110.645749 
L 168.192751 116.14637 
L 169.722727 121.587161 
L 171.459402 126.96206 
L 173.246336 131.771997 
L 175.069209 136.006887 
L 176.883691 139.673666 
L 179.120582 143.68469 
L 181.807742 148.008795 
L 184.65996 152.218489 
L 187.706069 156.293443 
L 190.30065 159.435693 
L 193.055801 162.445937 
L 196.312777 165.692668 
L 200.827978 169.856144 
L 217.794357 184.941542 
L 226.719383 192.802591 
L 230.802295 196.760692 
L 239.1034 205.280129 
L 244.809181 211.302146 
L 247.840106 214.859369 
L 250.35388 218.162615 
L 252.691792 221.590586 
L 255.412036 226.00519 
L 259.261081 232.750233 
L 262.440058 238.687854 
L 264.195599 242.452758 
L 265.526976 245.840048 
L 266.480838 248.812555 
L 267.243906 251.840034 
L 267.904866 255.419085 
L 268.418217 259.538145 
L 268.590412 261.602448 
L 268.590412 261.602448 
" clip-path="url(#pa73e26c07d)" style="fill: none; stroke: #008000; stroke-opacity: 0.6; stroke-width: 0.6336"/>
   </g>
   <g id="line2d_111">
    <path d="M 162.03234 40.836091 
L 162.023297 48.061694 
L 162.264995 55.802828 
L 162.481894 64.056489 
L 162.434378 73.860957 
L 162.52131 79.538847 
L 162.753777 83.144545 
L 163.312639 87.759278 
L 164.644917 96.423885 
L 166.97967 110.100047 
L 168.066302 115.119382 
L 169.26409 119.582327 
L 170.673325 123.980643 
L 172.613963 129.274645 
L 174.916509 134.960619 
L 177.01751 139.608853 
L 179.108422 143.69137 
L 181.177724 147.201866 
L 183.43368 150.592791 
L 185.884933 153.842552 
L 189.461912 158.141408 
L 193.563561 162.665084 
L 197.827099 167.069047 
L 201.542468 170.595862 
L 205.037861 173.619547 
L 211.07389 178.470545 
L 216.260087 182.76643 
L 220.103397 186.23796 
L 224.176376 190.220893 
L 235.89545 201.903079 
L 241.807675 207.715824 
L 244.97003 211.164725 
L 247.618574 214.372204 
L 250.431309 218.105238 
L 253.687956 222.793854 
L 256.768809 227.601896 
L 259.383063 232.089964 
L 261.54294 236.238606 
L 263.266366 240.024024 
L 264.774153 243.900589 
L 266.067451 247.852106 
L 267.010477 251.363593 
L 267.846657 255.430348 
L 268.374613 259.021274 
L 268.621425 261.599667 
L 268.621425 261.599667 
" clip-path="url(#pa73e26c07d)" style="fill: none; stroke: #008000; stroke-opacity: 0.6; stroke-width: 0.6336"/>
   </g>
   <g id="line2d_112">
    <path d="M 162.074165 47.029423 
L 162.370635 64.573772 
L 162.435367 73.860924 
L 162.695264 79.530073 
L 163.055182 83.642126 
L 164.438895 94.894269 
L 165.393646 101.511207 
L 166.343307 106.561573 
L 167.625472 112.061256 
L 169.503359 118.985275 
L 171.989173 127.323657 
L 173.637389 132.1702 
L 175.163183 135.96621 
L 176.698849 139.195993 
L 178.418919 142.326629 
L 180.58149 145.780078 
L 183.780936 150.356504 
L 187.167522 154.776955 
L 190.365306 158.702097 
L 193.745217 162.489151 
L 196.944553 165.771972 
L 201.036094 169.620551 
L 207.202981 175.042772 
L 215.716311 182.602798 
L 230.670276 196.150793 
L 235.794505 201.268448 
L 241.868503 207.65943 
L 246.02579 212.316087 
L 249.323016 216.339248 
L 252.115366 220.090975 
L 254.717111 223.979543 
L 257.122754 227.994044 
L 259.599243 232.564098 
L 262.133002 237.685221 
L 264.01616 241.964733 
L 265.497639 245.850345 
L 266.603291 249.319036 
L 267.369127 252.34482 
L 268.044643 255.92124 
L 268.503423 259.527761 
L 268.669594 261.595348 
L 268.669594 261.595348 
" clip-path="url(#pa73e26c07d)" style="fill: none; stroke: #008000; stroke-opacity: 0.6; stroke-width: 0.6336"/>
   </g>
   <g id="line2d_113">
    <path d="M 162.203323 45.997013 
L 162.14159 64.060606 
L 162.4544 71.279688 
L 163.303807 83.62592 
L 164.516231 94.885343 
L 165.334695 100.480816 
L 166.280747 105.529639 
L 167.857229 112.534861 
L 169.524508 118.979521 
L 171.15258 124.366913 
L 172.685024 128.706255 
L 174.416999 132.960907 
L 176.35084 137.112367 
L 178.700048 141.606424 
L 181.219234 145.991202 
L 184.454747 151.12135 
L 186.802854 154.419219 
L 189.292706 157.618771 
L 191.968301 160.671765 
L 195.516223 164.31657 
L 199.606525 168.153942 
L 205.750239 173.568139 
L 219.382064 185.490838 
L 225.493288 191.083268 
L 230.67771 196.143015 
L 241.934605 207.598148 
L 245.817538 211.811629 
L 248.840884 215.397108 
L 251.690385 219.11522 
L 254.355468 222.968879 
L 256.833096 226.949435 
L 259.376309 231.497447 
L 261.72651 236.147321 
L 263.645314 240.426406 
L 265.145649 244.316613 
L 266.274972 247.785832 
L 267.197536 251.314579 
L 267.882198 254.893985 
L 268.359694 258.499963 
L 268.608039 261.600868 
L 268.608039 261.600868 
" clip-path="url(#pa73e26c07d)" style="fill: none; stroke: #008000; stroke-opacity: 0.6; stroke-width: 0.6336"/>
   </g>
   <g id="line2d_114">
    <path d="M 162.229633 55.802922 
L 162.429854 63.025346 
L 162.587762 76.952893 
L 162.980066 81.064213 
L 163.445105 84.132706 
L 164.443056 90.759055 
L 165.062916 96.88962 
L 165.653216 102.511037 
L 166.237779 106.058756 
L 167.133271 110.068388 
L 168.62875 115.510135 
L 171.56011 125.310117 
L 173.072551 129.652636 
L 174.641525 133.419597 
L 176.427077 137.077952 
L 179.333722 142.415449 
L 182.886349 148.522952 
L 184.802962 151.49458 
L 186.912775 154.334533 
L 189.186053 157.046963 
L 191.980483 159.972788 
L 205.041446 172.813775 
L 208.541312 175.852783 
L 219.251382 184.857971 
L 223.347881 188.82704 
L 230.762257 196.054548 
L 237.457909 202.535008 
L 240.632168 205.968179 
L 244.690606 210.718786 
L 252.611452 220.376302 
L 254.749536 223.331694 
L 256.705588 226.413974 
L 258.70939 230.077765 
L 261.224746 235.233744 
L 264.459284 242.346105 
L 265.996544 246.228948 
L 266.968042 249.211402 
L 267.60709 251.747919 
L 268.160338 254.837736 
L 268.56146 258.471703 
L 268.73385 261.589586 
L 268.73385 261.589586 
" clip-path="url(#pa73e26c07d)" style="fill: none; stroke: #008000; stroke-opacity: 0.6; stroke-width: 0.6336"/>
   </g>
   <g id="line2d_115">
    <path d="M 162.08262 49.093886 
L 162.233225 64.059497 
L 162.517491 71.79398 
L 163.083491 80.026393 
L 163.527249 84.127189 
L 166.211409 103.980209 
L 167.387915 110.015903 
L 168.696423 115.493526 
L 170.103165 120.41131 
L 171.714058 125.260156 
L 173.525553 130.029941 
L 175.536974 134.699426 
L 177.543918 138.79242 
L 179.971998 143.21699 
L 182.607232 147.505736 
L 185.126785 151.265663 
L 188.135165 155.299474 
L 191.006436 158.811627 
L 194.06007 162.184217 
L 197.265914 165.435865 
L 200.988999 168.904255 
L 205.629187 172.91092 
L 215.071499 180.970532 
L 220.805753 186.230671 
L 228.649698 193.770634 
L 242.338697 207.223516 
L 245.499675 210.712221 
L 248.4816 214.353746 
L 251.279998 218.124997 
L 253.907178 222.013151 
L 256.365538 226.012126 
L 258.641774 230.117129 
L 260.978932 234.774711 
L 263.110249 239.524202 
L 264.99056 244.374648 
L 266.463213 248.817899 
L 267.409937 252.334814 
L 268.152375 255.901341 
L 268.690252 259.504991 
L 268.893197 261.575298 
L 268.893197 261.575298 
" clip-path="url(#pa73e26c07d)" style="fill: none; stroke: #008000; stroke-opacity: 0.6; stroke-width: 0.6336"/>
   </g>
   <g id="line2d_116">
    <path d="M 162.176275 47.029326 
L 162.547132 69.729552 
L 162.919811 79.518747 
L 163.207963 83.115822 
L 164.205781 90.781719 
L 165.374627 98.401607 
L 166.672186 105.460629 
L 168.31048 112.957274 
L 169.69917 118.402762 
L 171.17185 123.29056 
L 172.700935 127.619226 
L 174.431558 131.862135 
L 176.363181 135.997794 
L 178.727044 140.458597 
L 181.262206 144.797644 
L 184.775346 150.286204 
L 187.402077 153.95756 
L 190.168043 157.537472 
L 192.810294 160.581553 
L 196.309828 164.234442 
L 200.0069 167.712862 
L 204.624095 171.71739 
L 215.63915 181.106811 
L 222.155395 187.056854 
L 228.514333 193.159569 
L 234.335554 199.056879 
L 239.684669 204.715301 
L 244.187427 209.774741 
L 248.511533 214.993431 
L 252.659574 220.342158 
L 255.689709 224.585953 
L 257.950718 228.099598 
L 260.03132 231.72897 
L 261.92022 235.466281 
L 263.606266 239.301831 
L 265.071576 243.226979 
L 266.494986 247.715568 
L 267.418505 251.256679 
L 268.225436 255.357062 
L 268.730314 258.974688 
L 268.954851 261.56977 
L 268.954851 261.56977 
" clip-path="url(#pa73e26c07d)" style="fill: none; stroke: #008000; stroke-opacity: 0.6; stroke-width: 0.6336"/>
   </g>
   <g id="line2d_117">
    <path d="M 164.262647 86.651286 
L 166.736554 104.410992 
L 168.016522 110.407512 
L 169.416072 115.841571 
L 171.044517 121.20151 
L 172.884107 126.481686 
L 174.938684 131.665416 
L 176.801746 135.805304 
L 178.85451 139.832892 
L 181.34201 144.173957 
L 184.033877 148.375171 
L 186.626954 152.0367 
L 190.002299 156.364477 
L 192.941533 159.773897 
L 197.085426 164.163678 
L 201.090871 168.026755 
L 205.648117 172.089059 
L 219.31628 184.002561 
L 226.149848 190.375732 
L 233.57177 197.612494 
L 240.522437 204.628937 
L 244.408011 208.881221 
L 247.765275 212.916455 
L 250.944385 217.074826 
L 254.260315 221.770266 
L 257.107573 226.160419 
L 259.75039 230.684897 
L 261.94384 234.866411 
L 263.721582 238.674063 
L 265.283766 242.579896 
L 266.640084 246.564341 
L 267.6389 250.110635 
L 268.398547 253.71631 
L 268.952858 257.35578 
L 269.288925 261.017342 
L 269.321505 261.536894 
L 269.321505 261.536894 
" clip-path="url(#pa73e26c07d)" style="fill: none; stroke: #008000; stroke-opacity: 0.3; stroke-width: 0.5184"/>
   </g>
   <g id="line2d_118">
    <path d="M 165.272236 91.193909 
L 166.426509 99.80579 
L 167.387547 105.334511 
L 168.586185 110.808002 
L 170.002042 116.218923 
L 171.644842 121.554274 
L 173.498008 126.808479 
L 175.565553 131.961832 
L 177.441736 136.07099 
L 179.505425 140.065375 
L 181.741913 143.945014 
L 184.419426 148.122805 
L 186.998459 151.764083 
L 190.355809 156.068897 
L 193.280217 159.461439 
L 197.406536 163.833185 
L 201.398237 167.683443 
L 205.943902 171.735721 
L 219.621745 183.657556 
L 226.463287 190.037956 
L 233.891875 197.281028 
L 240.85384 204.308769 
L 244.752628 208.575319 
L 247.795229 212.215194 
L 251.313686 216.799229 
L 254.639982 221.509135 
L 257.497319 225.914583 
L 260.150789 230.456825 
L 262.354199 234.656788 
L 264.140932 238.483059 
L 265.712055 242.409882 
L 267.076981 246.417857 
L 268.082788 249.986942 
L 268.848626 253.617491 
L 269.408009 257.283843 
L 269.747691 260.974093 
L 269.780464 261.49574 
L 269.780464 261.49574 
" clip-path="url(#pa73e26c07d)" style="fill: none; stroke: #008000; stroke-opacity: 0.3; stroke-width: 0.5184"/>
   </g>
   <g id="line2d_119">
    <path d="M 166.312797 95.704509 
L 167.284331 102.253898 
L 168.147116 106.748433 
L 169.401632 112.189535 
L 170.875009 117.563726 
L 172.569601 122.860105 
L 174.474705 128.072017 
L 176.393341 132.711945 
L 178.303486 136.776855 
L 180.39532 140.725589 
L 182.662114 144.555963 
L 185.638511 149.092537 
L 188.267399 152.668194 
L 192.30363 157.664629 
L 195.641534 161.346746 
L 199.152822 164.914795 
L 203.194641 168.701179 
L 208.18358 173.049141 
L 217.606298 181.219138 
L 224.132451 187.198319 
L 231.25745 194.034022 
L 240.09682 202.853261 
L 244.045288 207.080837 
L 247.151845 210.692758 
L 250.423897 214.836555 
L 253.826863 219.513943 
L 257.045406 224.329104 
L 259.509692 228.389019 
L 261.804099 232.558614 
L 263.90873 236.838955 
L 265.374611 240.255266 
L 266.85444 244.245427 
L 268.115425 248.316892 
L 268.883314 251.42423 
L 269.564698 255.097944 
L 270.038996 258.803289 
L 270.239422 261.454587 
L 270.239422 261.454587 
" clip-path="url(#pa73e26c07d)" style="fill: none; stroke: #008000; stroke-opacity: 0.3; stroke-width: 0.5184"/>
   </g>
   <g id="line2d_120">
    <path d="M 162.760171 69.12 
L 163.136588 77.304481 
L 163.679899 84.247311 
L 164.382724 90.351679 
L 165.264533 96.018466 
L 166.304397 101.241268 
L 167.470318 106.016673 
L 168.845933 110.735899 
L 170.42871 115.389808 
L 172.344177 120.358794 
L 174.76738 126.005542 
L 177.730932 132.30762 
L 181.073752 138.880019 
L 183.30793 142.792934 
L 185.315967 145.884568 
L 187.511041 148.846196 
L 190.134899 151.991878 
L 194.522366 156.861368 
L 202.105896 164.913388 
L 209.55617 172.525364 
L 216.593479 179.3914 
L 235.180422 197.296064 
L 239.981229 202.340868 
L 243.768215 206.647662 
L 246.849937 210.477419 
L 250.01624 214.759258 
L 253.481559 219.833663 
L 257.451624 226.0475 
L 260.141694 230.643263 
L 262.00803 234.289412 
L 263.305244 237.298415 
L 264.12288 239.616 
L 264.12288 239.616 
" clip-path="url(#pa73e26c07d)" style="fill: none; stroke: #008000; stroke-opacity: 0.45; stroke-width: 0.5184"/>
   </g>
   <g id="line2d_121">
    <path d="M 162.011782 69.144812 
L 162.389204 77.350517 
L 162.934561 84.319234 
L 163.640656 90.451859 
L 164.527229 96.149171 
L 165.573367 101.403431 
L 166.746905 106.209997 
L 168.132007 110.961757 
L 169.724839 115.645282 
L 171.650625 120.641082 
L 174.084524 126.312804 
L 177.058235 132.636529 
L 180.414344 139.234818 
L 182.668691 143.182902 
L 184.700455 146.311003 
L 186.923744 149.310721 
L 189.57004 152.483442 
L 193.97194 157.369043 
L 201.565364 165.431584 
L 209.027062 173.055219 
L 216.075972 179.932592 
L 234.646627 197.821197 
L 239.428998 202.846577 
L 243.19489 207.129326 
L 246.257052 210.93479 
L 249.405771 215.192882 
L 252.856433 220.245874 
L 256.813916 226.439966 
L 259.485346 231.003691 
L 261.330535 234.60832 
L 262.607338 237.569761 
L 263.410078 239.845379 
L 263.410078 239.845379 
" clip-path="url(#pa73e26c07d)" style="fill: none; stroke: #008000; stroke-opacity: 0.45; stroke-width: 0.5184"/>
   </g>
   <g id="patch_8">
    <path d="M 156.672 285.408 
L 156.672 23.1552 
" style="fill: none; stroke: #000000; stroke-width: 0.8; stroke-linejoin: miter; stroke-linecap: square"/>
   </g>
   <g id="patch_9">
    <path d="M 274.176 285.408 
L 274.176 23.1552 
" style="fill: none; stroke: #000000; stroke-width: 0.8; stroke-linejoin: miter; stroke-linecap: square"/>
   </g>
   <g id="patch_10">
    <path d="M 156.672 285.408 
L 274.176 285.408 
" style="fill: none; stroke: #000000; stroke-width: 0.8; stroke-linejoin: miter; stroke-linecap: square"/>
   </g>
   <g id="patch_11">
    <path d="M 156.672 23.1552 
L 274.176 23.1552 
" style="fill: none; stroke: #000000; stroke-width: 0.8; stroke-linejoin: miter; stroke-linecap: square"/>
   </g>
   <g id="text_14">
    
    <g transform="translate(165.504 17.1552)">
     <text>
      <tspan x="0" y="-0.921875" style="font-size: 12px; font-family: 'DejaVu Sans'">3</tspan>
      <tspan x="7.634766" y="-0.921875" style="font-size: 12px; font-family: 'DejaVu Sans'">P</tspan>
      <tspan x="14.871094" y="-0.921875" style="font-size: 12px; font-family: 'DejaVu Sans'">,</tspan>
      <tspan x="18.685547" y="-0.921875" style="font-size: 12px; font-family: 'DejaVu Sans'"> </tspan>
      <tspan x="22.5" y="-0.921875" style="font-size: 12px; font-family: 'DejaVu Sans'">t</tspan>
      <tspan x="27.205078" y="-0.921875" style="font-size: 12px; font-family: 'DejaVu Sans'">e</tspan>
      <tspan x="34.587891" y="-0.921875" style="font-size: 12px; font-family: 'DejaVu Sans'">s</tspan>
      <tspan x="40.839844" y="-0.921875" style="font-size: 12px; font-family: 'DejaVu Sans'">t</tspan>
      <tspan x="45.544922" y="-0.921875" style="font-size: 12px; font-family: 'DejaVu Sans'">:</tspan>
      <tspan x="49.587891" y="-0.921875" style="font-size: 12px; font-family: 'DejaVu Sans'"> </tspan>
      <tspan x="64.716797" y="-0.921875" style="font-size: 12px; font-family: 'DejaVu Sans'">→</tspan>
      <tspan x="99.763672" y="-1.0625" style="font-size: 12px; font-family: 'DejaVu Sans'">̄</tspan>
      <tspan x="53.402344" y="-0.921875" style="font-style: oblique; font-size: 12px; font-family: 'DejaVu Sans'">N</tspan>
      <tspan x="77.109375" y="-0.921875" style="font-style: oblique; font-size: 12px; font-family: 'DejaVu Sans'">e</tspan>
      <tspan x="84.492188" y="-0.921875" style="font-style: oblique; font-size: 12px; font-family: 'DejaVu Sans'">q</tspan>
      <tspan x="92.109375" y="-0.921875" style="font-style: oblique; font-size: 12px; font-family: 'DejaVu Sans'">q</tspan>
     </text>
    </g>
   </g>
  </g>
  <g id="axes_3">
   <g id="patch_12">
    <path d="M 274.176 285.408 
L 391.68 285.408 
L 391.68 23.1552 
L 274.176 23.1552 
z
" style="fill: #ffffff"/>
   </g>
   <g id="matplotlib.axis_5">
    <g id="xtick_5">
     <g id="line2d_122">
      <g>
       <use href="#m1504cfccaf" x="279.385218" y="285.408" style="stroke: #000000; stroke-width: 0.8"/>
      </g>
     </g>
     <g id="text_15">
      <text style="font-size: 10px; font-family: 'DejaVu Sans', 'Bitstream Vera Sans', 'Computer Modern Sans Serif', 'Lucida Grande', 'Verdana', 'Geneva', 'Lucid', 'Arial', 'Helvetica', 'Avant Garde', sans-serif; text-anchor: middle" x="279.385218" y="300.006438" transform="rotate(-0 279.385218 300.006438)">0.0</text>
     </g>
    </g>
    <g id="xtick_6">
     <g id="line2d_123">
      <g>
       <use href="#m1504cfccaf" x="333.310872" y="285.408" style="stroke: #000000; stroke-width: 0.8"/>
      </g>
     </g>
     <g id="text_16">
      <text style="font-size: 10px; font-family: 'DejaVu Sans', 'Bitstream Vera Sans', 'Computer Modern Sans Serif', 'Lucida Grande', 'Verdana', 'Geneva', 'Lucid', 'Arial', 'Helvetica', 'Avant Garde', sans-serif; text-anchor: middle" x="333.310872" y="300.006438" transform="rotate(-0 333.310872 300.006438)">0.5</text>
     </g>
    </g>
    <g id="xtick_7">
     <g id="line2d_124">
      <g>
       <use href="#m1504cfccaf" x="387.236526" y="285.408" style="stroke: #000000; stroke-width: 0.8"/>
      </g>
     </g>
     <g id="text_17">
      <text style="font-size: 10px; font-family: 'DejaVu Sans', 'Bitstream Vera Sans', 'Computer Modern Sans Serif', 'Lucida Grande', 'Verdana', 'Geneva', 'Lucid', 'Arial', 'Helvetica', 'Avant Garde', sans-serif; text-anchor: middle" x="387.236526" y="300.006438" transform="rotate(-0 387.236526 300.006438)">1.0</text>
     </g>
    </g>
    <g id="text_18">
     <text style="font-size: 11px; font-family: 'DejaVu Sans', 'Bitstream Vera Sans', 'Computer Modern Sans Serif', 'Lucida Grande', 'Verdana', 'Geneva', 'Lucid', 'Arial', 'Helvetica', 'Avant Garde', sans-serif; text-anchor: middle" x="332.9280" y="314.0988" transform="rotate(-0 332.9280 314.0988)">signal eff</text>
    </g>
   </g>
   <g id="matplotlib.axis_6">
    <g id="ytick_75">
     <g id="line2d_125">
      <g>
       <use href="#m5d545ce8f8" x="274.176" y="285.408" style="stroke: #000000; stroke-width: 0.8"/>
      </g>
     </g>
    </g>
    <g id="ytick_76">
     <g id="line2d_126">
      <g>
       <use href="#m5d545ce8f8" x="274.176" y="219.8448" style="stroke: #000000; stroke-width: 0.8"/>
      </g>
     </g>
    </g>
    <g id="ytick_77">
     <g id="line2d_127">
      <g>
       <use href="#m5d545ce8f8" x="274.176" y="154.2816" style="stroke: #000000; stroke-width: 0.8"/>
      </g>
     </g>
    </g>
    <g id="ytick_78">
     <g id="line2d_128">
      <g>
       <use href="#m5d545ce8f8" x="274.176" y="88.7184" style="stroke: #000000; stroke-width: 0.8"/>
      </g>
     </g>
    </g>
    <g id="ytick_79">
     <g id="line2d_129">
      <g>
       <use href="#m5d545ce8f8" x="274.176" y="23.1552" style="stroke: #000000; stroke-width: 0.8"/>
      </g>
     </g>
    </g>
    <g id="ytick_80">
     <g id="line2d_130">
      <g>
       <use href="#mc3d89a154a" x="274.176" y="265.67151" style="stroke: #000000; stroke-width: 0.6"/>
      </g>
     </g>
    </g>
    <g id="ytick_81">
     <g id="line2d_131">
      <g>
       <use href="#mc3d89a154a" x="274.176" y="254.126404" style="stroke: #000000; stroke-width: 0.6"/>
      </g>
     </g>
    </g>
    <g id="ytick_82">
     <g id="line2d_132">
      <g>
       <use href="#mc3d89a154a" x="274.176" y="245.93502" style="stroke: #000000; stroke-width: 0.6"/>
      </g>
     </g>
    </g>
    <g id="ytick_83">
     <g id="line2d_133">
      <g>
       <use href="#mc3d89a154a" x="274.176" y="239.58129" style="stroke: #000000; stroke-width: 0.6"/>
      </g>
     </g>
    </g>
    <g id="ytick_84">
     <g id="line2d_134">
      <g>
       <use href="#mc3d89a154a" x="274.176" y="234.389914" style="stroke: #000000; stroke-width: 0.6"/>
      </g>
     </g>
    </g>
    <g id="ytick_85">
     <g id="line2d_135">
      <g>
       <use href="#mc3d89a154a" x="274.176" y="230.000668" style="stroke: #000000; stroke-width: 0.6"/>
      </g>
     </g>
    </g>
    <g id="ytick_86">
     <g id="line2d_136">
      <g>
       <use href="#mc3d89a154a" x="274.176" y="226.198531" style="stroke: #000000; stroke-width: 0.6"/>
      </g>
     </g>
    </g>
    <g id="ytick_87">
     <g id="line2d_137">
      <g>
       <use href="#mc3d89a154a" x="274.176" y="222.844808" style="stroke: #000000; stroke-width: 0.6"/>
      </g>
     </g>
    </g>
    <g id="ytick_88">
     <g id="line2d_138">
      <g>
       <use href="#mc3d89a154a" x="274.176" y="200.10831" style="stroke: #000000; stroke-width: 0.6"/>
      </g>
     </g>
    </g>
    <g id="ytick_89">
     <g id="line2d_139">
      <g>
       <use href="#mc3d89a154a" x="274.176" y="188.563204" style="stroke: #000000; stroke-width: 0.6"/>
      </g>
     </g>
    </g>
    <g id="ytick_90">
     <g id="line2d_140">
      <g>
       <use href="#mc3d89a154a" x="274.176" y="180.37182" style="stroke: #000000; stroke-width: 0.6"/>
      </g>
     </g>
    </g>
    <g id="ytick_91">
     <g id="line2d_141">
      <g>
       <use href="#mc3d89a154a" x="274.176" y="174.01809" style="stroke: #000000; stroke-width: 0.6"/>
      </g>
     </g>
    </g>
    <g id="ytick_92">
     <g id="line2d_142">
      <g>
       <use href="#mc3d89a154a" x="274.176" y="168.826714" style="stroke: #000000; stroke-width: 0.6"/>
      </g>
     </g>
    </g>
    <g id="ytick_93">
     <g id="line2d_143">
      <g>
       <use href="#mc3d89a154a" x="274.176" y="164.437468" style="stroke: #000000; stroke-width: 0.6"/>
      </g>
     </g>
    </g>
    <g id="ytick_94">
     <g id="line2d_144">
      <g>
       <use href="#mc3d89a154a" x="274.176" y="160.635331" style="stroke: #000000; stroke-width: 0.6"/>
      </g>
     </g>
    </g>
    <g id="ytick_95">
     <g id="line2d_145">
      <g>
       <use href="#mc3d89a154a" x="274.176" y="157.281608" style="stroke: #000000; stroke-width: 0.6"/>
      </g>
     </g>
    </g>
    <g id="ytick_96">
     <g id="line2d_146">
      <g>
       <use href="#mc3d89a154a" x="274.176" y="134.54511" style="stroke: #000000; stroke-width: 0.6"/>
      </g>
     </g>
    </g>
    <g id="ytick_97">
     <g id="line2d_147">
      <g>
       <use href="#mc3d89a154a" x="274.176" y="123.000004" style="stroke: #000000; stroke-width: 0.6"/>
      </g>
     </g>
    </g>
    <g id="ytick_98">
     <g id="line2d_148">
      <g>
       <use href="#mc3d89a154a" x="274.176" y="114.80862" style="stroke: #000000; stroke-width: 0.6"/>
      </g>
     </g>
    </g>
    <g id="ytick_99">
     <g id="line2d_149">
      <g>
       <use href="#mc3d89a154a" x="274.176" y="108.45489" style="stroke: #000000; stroke-width: 0.6"/>
      </g>
     </g>
    </g>
    <g id="ytick_100">
     <g id="line2d_150">
      <g>
       <use href="#mc3d89a154a" x="274.176" y="103.263514" style="stroke: #000000; stroke-width: 0.6"/>
      </g>
     </g>
    </g>
    <g id="ytick_101">
     <g id="line2d_151">
      <g>
       <use href="#mc3d89a154a" x="274.176" y="98.874268" style="stroke: #000000; stroke-width: 0.6"/>
      </g>
     </g>
    </g>
    <g id="ytick_102">
     <g id="line2d_152">
      <g>
       <use href="#mc3d89a154a" x="274.176" y="95.072131" style="stroke: #000000; stroke-width: 0.6"/>
      </g>
     </g>
    </g>
    <g id="ytick_103">
     <g id="line2d_153">
      <g>
       <use href="#mc3d89a154a" x="274.176" y="91.718408" style="stroke: #000000; stroke-width: 0.6"/>
      </g>
     </g>
    </g>
    <g id="ytick_104">
     <g id="line2d_154">
      <g>
       <use href="#mc3d89a154a" x="274.176" y="68.98191" style="stroke: #000000; stroke-width: 0.6"/>
      </g>
     </g>
    </g>
    <g id="ytick_105">
     <g id="line2d_155">
      <g>
       <use href="#mc3d89a154a" x="274.176" y="57.436804" style="stroke: #000000; stroke-width: 0.6"/>
      </g>
     </g>
    </g>
    <g id="ytick_106">
     <g id="line2d_156">
      <g>
       <use href="#mc3d89a154a" x="274.176" y="49.24542" style="stroke: #000000; stroke-width: 0.6"/>
      </g>
     </g>
    </g>
    <g id="ytick_107">
     <g id="line2d_157">
      <g>
       <use href="#mc3d89a154a" x="274.176" y="42.89169" style="stroke: #000000; stroke-width: 0.6"/>
      </g>
     </g>
    </g>
    <g id="ytick_108">
     <g id="line2d_158">
      <g>
       <use href="#mc3d89a154a" x="274.176" y="37.700314" style="stroke: #000000; stroke-width: 0.6"/>
      </g>
     </g>
    </g>
    <g id="ytick_109">
     <g id="line2d_159">
      <g>
       <use href="#mc3d89a154a" x="274.176" y="33.311068" style="stroke: #000000; stroke-width: 0.6"/>
      </g>
     </g>
    </g>
    <g id="ytick_110">
     <g id="line2d_160">
      <g>
       <use href="#mc3d89a154a" x="274.176" y="29.508931" style="stroke: #000000; stroke-width: 0.6"/>
      </g>
     </g>
    </g>
    <g id="ytick_111">
     <g id="line2d_161">
      <g>
       <use href="#mc3d89a154a" x="274.176" y="26.155208" style="stroke: #000000; stroke-width: 0.6"/>
      </g>
     </g>
    </g>
   </g>
   <g id="line2d_162">
    <path d="M 279.373337 20.757697 
L 279.516496 29.589512 
L 279.736027 41.744586 
L 280.158534 51.142277 
L 281.355506 71.040044 
L 282.036825 78.236204 
L 282.678871 82.649069 
L 283.724838 88.128129 
L 284.912309 92.997142 
L 286.891641 99.361638 
L 292.246737 116.236906 
L 295.124681 125.213597 
L 297.03106 130.43791 
L 298.94114 135.072727 
L 301.039243 139.62966 
L 303.819277 145.088248 
L 307.571018 151.905946 
L 311.77043 159.102745 
L 315.296105 164.76108 
L 319.015517 170.292633 
L 322.601102 175.237082 
L 327.024706 180.935785 
L 331.957678 186.931145 
L 338.129149 194.048994 
L 344.466471 201.01111 
L 358.717866 216.446886 
L 363.344682 221.93149 
L 367.450012 227.118794 
L 371.049952 231.986071 
L 374.451705 236.985959 
L 377.06516 241.186046 
L 379.209889 245.025904 
L 380.906871 248.481299 
L 382.398614 252.030676 
L 383.489561 255.145077 
L 384.390699 258.318357 
L 385.091847 261.539621 
L 385.587874 264.796145 
L 385.756734 266.43583 
L 385.756734 266.43583 
" clip-path="url(#p4f5b70a59a)" style="fill: none; stroke: #ff0000; stroke-opacity: 0.9; stroke-width: 0.6336"/>
   </g>
   <g id="line2d_163">
    <path d="M 279.518558 20.751211 
L 279.819956 26.819872 
L 279.954604 35.107333 
L 280.304932 63.894704 
L 280.737297 68.316241 
L 281.548891 73.812528 
L 283.079742 82.566064 
L 285.166151 93.5034 
L 286.488662 98.324599 
L 288.184428 103.602339 
L 297.361799 130.314283 
L 300.48571 138.047366 
L 303.155513 144.17579 
L 305.353987 148.683147 
L 307.513333 152.580084 
L 309.861282 156.363015 
L 313.900464 162.354261 
L 324.3457 177.396717 
L 327.790075 181.744922 
L 333.169188 188.08711 
L 344.052704 200.638142 
L 350.130283 207.078279 
L 355.003251 212.35863 
L 360.057803 218.208385 
L 370.319752 230.475202 
L 372.891557 234.058783 
L 374.967493 237.311071 
L 377.148519 241.138861 
L 379.405835 245.542229 
L 381.485076 250.027306 
L 383.133474 254.104262 
L 384.181176 257.235629 
L 385.012929 260.433112 
L 385.59511 263.685345 
L 385.880893 266.423664 
L 385.880893 266.423664 
" clip-path="url(#p4f5b70a59a)" style="fill: none; stroke: #ff0000; stroke-opacity: 0.9; stroke-width: 0.6336"/>
   </g>
   <g id="line2d_164">
    <path d="M 279.36977 20.757857 
L 279.858747 32.897998 
L 280.166642 41.185647 
L 280.146928 47.269167 
L 280.088805 56.685097 
L 280.325076 61.668204 
L 280.799875 66.637337 
L 281.99125 75.992062 
L 282.978585 82.58701 
L 284.031372 88.051379 
L 285.076814 92.374229 
L 286.859504 98.212388 
L 294.959788 123.510585 
L 299.379914 136.097287 
L 301.08145 140.223113 
L 302.774617 143.7424 
L 304.653234 147.163191 
L 307.549421 151.91828 
L 318.280971 168.77125 
L 321.217027 172.809026 
L 325.665315 178.480328 
L 337.835787 193.571135 
L 342.982013 199.368235 
L 356.794445 214.461764 
L 363.198584 221.333452 
L 366.04085 224.716049 
L 368.69884 228.243636 
L 371.489553 232.348859 
L 375.892401 239.325426 
L 378.960675 244.535773 
L 380.731021 247.957384 
L 382.067966 250.978496 
L 383.207521 254.079401 
L 384.144748 257.245676 
L 385.000577 260.997627 
L 385.625745 264.791372 
L 385.823589 266.429279 
L 385.823589 266.429279 
" clip-path="url(#p4f5b70a59a)" style="fill: none; stroke: #ff0000; stroke-opacity: 0.9; stroke-width: 0.6336"/>
   </g>
   <g id="line2d_165">
    <path d="M 279.484592 20.752728 
L 279.725835 30.137526 
L 280.137454 47.822575 
L 280.712902 59.97908 
L 281.31896 69.370753 
L 281.991376 75.992042 
L 282.645297 80.386486 
L 283.613608 85.293289 
L 284.911683 90.692584 
L 286.270571 95.495898 
L 293.77396 120.399693 
L 296.000913 126.672712 
L 298.618496 133.403068 
L 301.229831 139.543547 
L 303.608567 144.57159 
L 305.934163 149.001529 
L 308.717986 153.808992 
L 312.269662 159.443348 
L 316.898825 166.354028 
L 321.379366 172.68956 
L 325.405901 177.980659 
L 329.95751 183.559738 
L 348.136492 205.152691 
L 352.705594 209.966145 
L 358.791344 216.382394 
L 362.042053 220.142045 
L 365.131799 224.032391 
L 369.38621 229.795823 
L 375.420301 238.325957 
L 378.137937 242.479877 
L 380.066257 245.833357 
L 381.526189 248.813707 
L 382.771418 251.891148 
L 383.788518 255.05058 
L 384.585505 258.26863 
L 385.26886 262.065788 
L 385.727906 265.885107 
L 385.775768 266.433965 
L 385.775768 266.433965 
" clip-path="url(#p4f5b70a59a)" style="fill: none; stroke: #ff0000; stroke-opacity: 0.9; stroke-width: 0.6336"/>
   </g>
   <g id="line2d_166">
    <path d="M 279.591834 20.747938 
L 279.957398 29.027304 
L 280.128712 38.974644 
L 280.472849 62.213867 
L 280.806746 66.636706 
L 281.350449 71.040645 
L 282.348857 77.05856 
L 284.269165 86.849064 
L 285.696268 93.353534 
L 287.026533 98.161848 
L 288.737112 103.428027 
L 292.812593 115.475849 
L 297.453017 130.280187 
L 299.099204 134.40778 
L 301.376942 139.477077 
L 304.78715 146.465344 
L 307.624571 151.87536 
L 310.144851 156.190344 
L 312.56927 159.91021 
L 316.110765 164.878564 
L 330.597203 184.46641 
L 334.566689 189.085814 
L 343.641885 199.524665 
L 350.863189 207.906246 
L 368.075674 227.33038 
L 371.144231 231.240355 
L 373.695649 234.848406 
L 375.757842 238.119123 
L 377.645159 241.491797 
L 379.602108 245.445739 
L 381.597747 249.980925 
L 383.397611 254.596547 
L 384.613009 258.26161 
L 385.456495 261.46966 
L 385.970975 264.189578 
L 386.235691 266.388899 
L 386.235691 266.388899 
" clip-path="url(#p4f5b70a59a)" style="fill: none; stroke: #ff0000; stroke-opacity: 0.9; stroke-width: 0.6336"/>
   </g>
   <g id="line2d_167">
    <path d="M 279.887014 20.734755 
L 280.07016 25.706947 
L 280.052348 31.789248 
L 279.935091 43.400916 
L 280.147409 49.482238 
L 281.122435 66.051886 
L 281.628713 72.682313 
L 282.162478 77.088726 
L 282.828223 80.917021 
L 283.811829 85.247679 
L 285.270899 90.596352 
L 287.99524 99.602556 
L 293.79514 118.646085 
L 296.191317 125.431704 
L 299.361935 133.704094 
L 302.139116 140.349146 
L 304.470845 145.37961 
L 307.004821 150.31325 
L 309.750356 155.132004 
L 312.694017 159.830329 
L 316.11998 164.872293 
L 320.98371 171.606083 
L 328.621996 181.792385 
L 332.760049 186.988809 
L 336.724142 191.609834 
L 341.955264 197.325534 
L 349.034499 205.089031 
L 355.891132 213.04711 
L 362.453445 220.517044 
L 367.538766 226.347907 
L 370.284095 229.81559 
L 372.51821 232.975869 
L 374.866954 236.72215 
L 377.022097 240.576983 
L 379.505512 245.493227 
L 381.782593 250.499681 
L 383.399759 254.595847 
L 384.431453 257.738734 
L 385.256493 260.945778 
L 385.837633 264.207866 
L 386.078327 266.404318 
L 386.078327 266.404318 
" clip-path="url(#p4f5b70a59a)" style="fill: none; stroke: #ff0000; stroke-opacity: 0.9; stroke-width: 0.6336"/>
   </g>
   <g id="line2d_168">
    <path d="M 280.00679 20.729405 
L 280.172914 27.363341 
L 280.162798 37.315666 
L 280.202977 48.374352 
L 280.45032 55.560917 
L 280.889697 62.185109 
L 281.550005 68.78953 
L 282.433684 75.364872 
L 283.456669 81.358846 
L 284.703911 87.31278 
L 286.297068 93.758702 
L 288.408182 101.211881 
L 291.344348 110.722078 
L 294.783263 121.233802 
L 297.408483 128.524054 
L 299.87725 134.689964 
L 302.125152 139.746118 
L 304.561705 144.711814 
L 307.436821 150.072215 
L 310.774874 155.806709 
L 314.59448 161.896889 
L 318.908796 168.327044 
L 323.72434 175.085663 
L 328.722113 181.712875 
L 333.556512 187.766696 
L 338.562045 193.678416 
L 344.102738 199.855751 
L 352.057286 208.318329 
L 358.814349 215.626377 
L 363.155509 220.646755 
L 366.958989 225.396482 
L 370.234331 229.85242 
L 373.006612 233.980688 
L 375.606177 238.212059 
L 378.024696 242.541234 
L 380.241867 246.97074 
L 382.014865 250.999372 
L 383.38287 254.601351 
L 384.545889 258.278743 
L 385.351438 261.489816 
L 385.954474 264.749943 
L 386.172332 266.395107 
L 386.172332 266.395107 
" clip-path="url(#p4f5b70a59a)" style="fill: none; stroke: #ff0000; stroke-opacity: 0.9; stroke-width: 0.6336"/>
   </g>
   <g id="line2d_169">
    <path d="M 279.979395 20.730629 
L 280.317202 29.019206 
L 280.464404 37.864544 
L 280.637144 58.32115 
L 281.024817 63.839173 
L 281.688853 69.886854 
L 282.634194 76.452517 
L 283.796085 82.982297 
L 284.991961 88.380994 
L 286.422365 93.722952 
L 288.23847 99.527801 
L 293.893038 116.871906 
L 296.811995 126.387074 
L 298.497372 131.070913 
L 300.190001 135.159522 
L 302.296178 139.667955 
L 305.31919 145.565477 
L 310.817344 155.780848 
L 313.878166 161.043466 
L 316.573896 165.232949 
L 319.462674 169.290933 
L 322.854462 173.663857 
L 329.863314 182.217598 
L 342.57719 197.516416 
L 353.099843 209.611212 
L 368.279104 227.172474 
L 371.30697 231.123148 
L 373.817604 234.767367 
L 376.138738 238.534174 
L 378.274531 242.405867 
L 380.470382 246.864344 
L 382.235907 250.912471 
L 383.790364 255.049996 
L 384.923386 258.753859 
L 385.679245 261.991494 
L 386.199436 265.278376 
L 386.31568 266.381061 
L 386.31568 266.381061 
" clip-path="url(#p4f5b70a59a)" style="fill: none; stroke: #ff0000; stroke-opacity: 0.9; stroke-width: 0.6336"/>
   </g>
   <g id="line2d_170">
    <path d="M 280.183883 20.721496 
L 280.277572 26.254063 
L 280.297939 44.501182 
L 281.392522 67.693735 
L 281.913166 72.087687 
L 282.684157 76.44464 
L 283.895776 81.834084 
L 285.827721 89.305868 
L 288.500532 98.86957 
L 291.304611 107.83338 
L 293.852388 116.304634 
L 296.104667 123.707171 
L 297.764294 128.394573 
L 299.829989 133.516684 
L 303.160971 141.092352 
L 306.220957 147.58713 
L 308.289175 151.495781 
L 310.564073 155.287955 
L 313.345078 159.413423 
L 325.221389 176.031612 
L 328.893504 180.871411 
L 333.767092 186.875571 
L 344.393205 199.599447 
L 349.584527 205.33778 
L 355.49006 211.922846 
L 360.817336 218.281171 
L 373.104263 233.244322 
L 375.259777 236.472587 
L 377.214934 239.826974 
L 379.230432 243.777273 
L 381.281084 248.31704 
L 383.121119 252.941456 
L 384.355568 256.613162 
L 385.219176 259.822466 
L 385.859505 263.085656 
L 386.253201 266.387183 
L 386.253201 266.387183 
" clip-path="url(#p4f5b70a59a)" style="fill: none; stroke: #ff0000; stroke-opacity: 0.9; stroke-width: 0.6336"/>
   </g>
   <g id="line2d_171">
    <path d="M 279.995262 20.72992 
L 280.73141 50.573077 
L 281.186612 58.845274 
L 281.887175 67.091091 
L 282.645657 73.661752 
L 283.490737 79.106149 
L 284.463174 83.967115 
L 285.675712 88.775899 
L 288.113993 97.256175 
L 291.856831 109.398022 
L 295.13327 119.374105 
L 298.810935 129.772612 
L 301.548098 136.982417 
L 303.513667 141.535311 
L 305.465296 145.489998 
L 307.607928 149.345485 
L 310.485015 154.047933 
L 317.07069 164.22533 
L 321.398749 170.620151 
L 324.673424 175.061432 
L 329.131312 180.683154 
L 335.646303 188.904666 
L 341.812368 196.716687 
L 345.079305 200.468413 
L 348.883897 204.48113 
L 356.15885 212.066605 
L 359.789044 216.243128 
L 364.676589 222.259985 
L 371.869717 231.401224 
L 374.428965 235.02753 
L 376.475735 238.330241 
L 378.310383 241.755661 
L 379.94197 245.278658 
L 381.802815 249.896507 
L 383.642036 255.096881 
L 384.923747 259.322512 
L 385.71006 262.54869 
L 386.277859 265.828151 
L 386.347899 266.377904 
L 386.347899 266.377904 
" clip-path="url(#p4f5b70a59a)" style="fill: none; stroke: #ff0000; stroke-opacity: 0.9; stroke-width: 0.6336"/>
   </g>
   <g id="line2d_172">
    <path d="M 280.044049 20.727741 
L 280.425589 32.888671 
L 280.905217 47.806054 
L 281.83981 67.095595 
L 282.306567 72.038091 
L 282.984159 76.397345 
L 283.895644 80.711108 
L 285.016574 84.970471 
L 288.892643 98.749646 
L 291.10582 106.736396 
L 292.816689 111.99391 
L 295.293615 118.741583 
L 299.305487 129.587754 
L 302.338244 137.837654 
L 304.068917 141.879401 
L 306.011279 145.827163 
L 308.410926 150.158818 
L 312.096128 156.291036 
L 317.380679 164.68114 
L 320.49586 169.230892 
L 323.81011 173.639723 
L 328.325197 179.211445 
L 334.901746 187.369832 
L 341.79854 195.996462 
L 345.784633 200.581625 
L 359.780727 216.250408 
L 365.36861 223.124317 
L 370.466507 229.680588 
L 374.026465 234.628578 
L 376.73845 238.819941 
L 378.958983 242.666809 
L 380.730511 246.129921 
L 382.312427 249.686723 
L 383.668182 253.337672 
L 384.620129 256.5375 
L 385.356256 259.791777 
L 385.8661 263.084605 
L 386.153774 266.396926 
L 386.153774 266.396926 
" clip-path="url(#p4f5b70a59a)" style="fill: none; stroke: #ff0000; stroke-opacity: 0.9; stroke-width: 0.6336"/>
   </g>
   <g id="line2d_173">
    <path d="M 280.649202 20.700713 
L 280.929767 26.235353 
L 280.974864 31.772758 
L 280.755403 41.730306 
L 280.731029 48.362433 
L 280.926989 53.882816 
L 281.330182 59.390016 
L 282.207357 67.613647 
L 283.146193 74.702681 
L 284.153382 80.661389 
L 285.078348 84.956257 
L 286.363338 89.734292 
L 289.57728 100.27021 
L 298.880435 128.573338 
L 300.922446 133.670103 
L 303.15214 138.674991 
L 305.798898 144.08452 
L 309.137852 150.379336 
L 312.421661 156.090197 
L 315.621239 161.220232 
L 319.302039 166.700367 
L 323.795166 172.963125 
L 329.438438 180.440023 
L 334.931354 187.345274 
L 339.912717 193.248576 
L 356.835772 212.94543 
L 372.705984 232.16972 
L 375.258082 235.814303 
L 377.301889 239.13201 
L 379.145858 242.567088 
L 380.78488 246.104132 
L 382.225298 249.72259 
L 383.64325 253.933105 
L 384.824342 258.207665 
L 385.649412 261.996894 
L 386.246253 265.831424 
L 386.312247 266.381397 
L 386.312247 266.381397 
" clip-path="url(#p4f5b70a59a)" style="fill: none; stroke: #ff0000; stroke-opacity: 0.9; stroke-width: 0.6336"/>
   </g>
   <g id="line2d_174">
    <path d="M 283.127643 75.261195 
L 283.761049 78.499609 
L 285.168961 83.810992 
L 291.942761 106.469242 
L 298.383279 125.833715 
L 300.687889 132.582946 
L 302.674444 137.689176 
L 304.67567 142.19526 
L 306.637 146.119666 
L 309.539179 151.414271 
L 312.631358 156.606645 
L 316.188638 162.163803 
L 320.222598 168.071847 
L 324.753762 174.309822 
L 329.788667 180.865852 
L 331.847546 183.455024 
L 331.847546 183.455024 
" clip-path="url(#p4f5b70a59a)" style="fill: none; stroke: #ff0000; stroke-opacity: 0.55; stroke-width: 0.5184"/>
   </g>
   <g id="line2d_175">
    <path d="M 283.127643 75.261195 
L 283.778891 78.49649 
L 285.865087 85.898464 
L 290.012119 99.558733 
L 292.15213 105.243117 
L 295.086121 113.013049 
L 295.924712 115.642054 
L 300.159604 130.437785 
L 302.002851 135.594421 
L 304.052548 140.671163 
L 305.882198 144.657232 
L 308.727689 149.980679 
L 311.770693 155.200332 
L 315.284654 160.783351 
L 319.275771 166.71878 
L 323.768084 172.983299 
L 328.768369 179.564407 
L 331.847546 183.455024 
L 331.847546 183.455024 
" clip-path="url(#p4f5b70a59a)" style="fill: none; stroke: #ff0000; stroke-opacity: 0.55; stroke-width: 0.5184"/>
   </g>
   <g id="line2d_176">
    <path d="M 283.127643 75.261195 
L 283.791028 78.494368 
L 285.368603 83.76683 
L 286.869311 87.903934 
L 289.18027 94.074023 
L 294.174798 109.819738 
L 296.09342 116.745441 
L 297.701424 122.584659 
L 299.535406 128.332906 
L 301.926995 135.033151 
L 304.524735 141.659478 
L 305.882198 144.657232 
L 308.727689 149.980679 
L 311.770693 155.200332 
L 315.284654 160.783351 
L 319.275771 166.71878 
L 323.768084 172.983299 
L 328.768369 179.564407 
L 331.847546 183.455024 
L 331.847546 183.455024 
" clip-path="url(#p4f5b70a59a)" style="fill: none; stroke: #ff0000; stroke-opacity: 0.55; stroke-width: 0.5184"/>
   </g>
   <g id="patch_13">
    <path d="M 274.176 285.408 
L 274.176 23.1552 
" style="fill: none; stroke: #000000; stroke-width: 0.8; stroke-linejoin: miter; stroke-linecap: square"/>
   </g>
   <g id="patch_14">
    <path d="M 391.68 285.408 
L 391.68 23.1552 
" style="fill: none; stroke: #000000; stroke-width: 0.8; stroke-linejoin: miter; stroke-linecap: square"/>
   </g>
   <g id="patch_15">
    <path d="M 274.176 285.408 
L 391.68 285.408 
" style="fill: none; stroke: #000000; stroke-width: 0.8; stroke-linejoin: miter; stroke-linecap: square"/>
   </g>
   <g id="patch_16">
    <path d="M 274.176 23.1552 
L 391.68 23.1552 
" style="fill: none; stroke: #000000; stroke-width: 0.8; stroke-linejoin: miter; stroke-linecap: square"/>
   </g>
   <g id="text_19">
    
    <g transform="translate(287.388 17.1552)">
     <text>
      <tspan x="0" y="-0.875" style="font-size: 12px; font-family: 'DejaVu Sans'">4</tspan>
      <tspan x="7.634766" y="-0.875" style="font-size: 12px; font-family: 'DejaVu Sans'">P</tspan>
      <tspan x="14.871094" y="-0.875" style="font-size: 12px; font-family: 'DejaVu Sans'">,</tspan>
      <tspan x="18.685547" y="-0.875" style="font-size: 12px; font-family: 'DejaVu Sans'"> </tspan>
      <tspan x="22.5" y="-0.875" style="font-size: 12px; font-family: 'DejaVu Sans'">t</tspan>
      <tspan x="27.205078" y="-0.875" style="font-size: 12px; font-family: 'DejaVu Sans'">e</tspan>
      <tspan x="34.587891" y="-0.875" style="font-size: 12px; font-family: 'DejaVu Sans'">s</tspan>
      <tspan x="40.839844" y="-0.875" style="font-size: 12px; font-family: 'DejaVu Sans'">t</tspan>
      <tspan x="45.544922" y="-0.875" style="font-size: 12px; font-family: 'DejaVu Sans'">:</tspan>
      <tspan x="49.587891" y="-0.875" style="font-size: 12px; font-family: 'DejaVu Sans'"> </tspan>
      <tspan x="63.357422" y="-0.875" style="font-size: 12px; font-family: 'DejaVu Sans'">→</tspan>
      <tspan x="75.75" y="-0.875" style="font-size: 12px; font-family: 'DejaVu Sans'">4</tspan>
      <tspan x="53.402344" y="-0.875" style="font-style: oblique; font-size: 12px; font-family: 'DejaVu Sans'">S</tspan>
      <tspan x="83.384766" y="-0.875" style="font-style: oblique; font-size: 12px; font-family: 'DejaVu Sans'">b</tspan>
     </text>
    </g>
   </g>
  </g>
 </g>
 <defs>
  <clipPath id="p6982bb04e9">
   <rect x="39.168" y="23.1552" width="117.504" height="262.2528"/>
  </clipPath>
  <clipPath id="pa73e26c07d">
   <rect x="156.672" y="23.1552" width="117.504" height="262.2528"/>
  </clipPath>
  <clipPath id="p4f5b70a59a">
   <rect x="274.176" y="23.1552" width="117.504" height="262.2528"/>
  </clipPath>
 </defs>
</svg>
</body></html>
